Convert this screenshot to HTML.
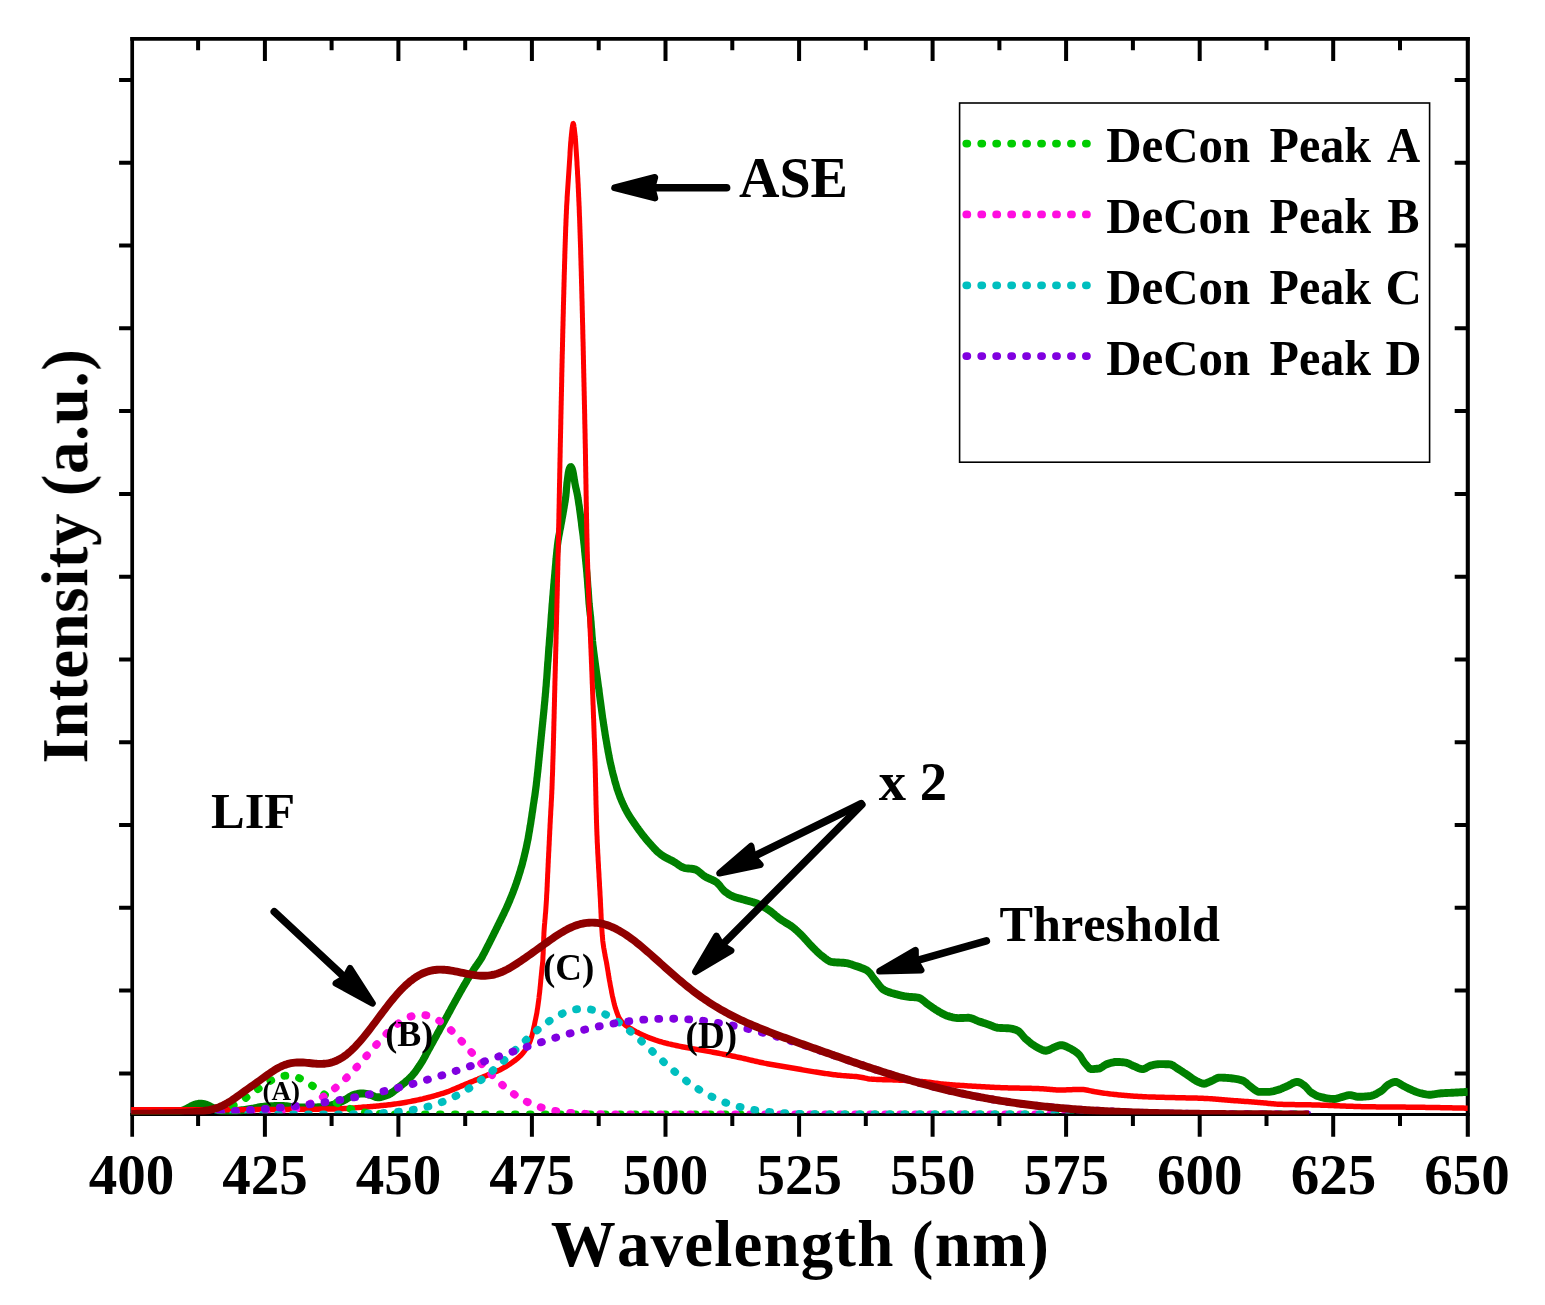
<!DOCTYPE html>
<html lang="en"><head><meta charset="utf-8"><title>Fluorescence spectra</title>
<style>
html,body{margin:0;padding:0;background:#fff}
svg{display:block}
text{font-family:"Liberation Serif",serif;font-weight:bold;fill:#000;font-kerning:none}
</style></head><body>
<svg width="1545" height="1305" viewBox="0 0 1545 1305">
<rect width="1545" height="1305" fill="#fff"/>
<filter id="soft" filterUnits="userSpaceOnUse" x="0" y="0" width="1545" height="1305"><feGaussianBlur stdDeviation="0.45"/></filter>
<g filter="url(#soft)">
<defs><clipPath id="plot"><rect x="131.2" y="38.8" width="1336.5" height="1075.7"/></clipPath><clipPath id="plotd"><rect x="131.2" y="38.8" width="1336.5" height="1074.5"/></clipPath></defs>
<g stroke="#000" stroke-width="3.7" fill="none" stroke-linecap="butt">
<path d="M130.3 38.8 H1469.8"/>
<path d="M130.3 1114.55 H1469.8" stroke-width="2.9"/>
<path d="M132.2 36.9 V1136.7"/>
<path d="M1467.8 36.9 V1136.7" stroke-width="4.1"/>
<path d="M198.1 1114.4 V1126.0 M198.1 38.8 V50.3 M264.9 1114.4 V1136.7 M264.9 38.8 V61.0 M331.6 1114.4 V1126.0 M331.6 38.8 V50.3 M398.4 1114.4 V1136.7 M398.4 38.8 V61.0 M465.2 1114.4 V1126.0 M465.2 38.8 V50.3 M531.9 1114.4 V1136.7 M531.9 38.8 V61.0 M598.7 1114.4 V1126.0 M598.7 38.8 V50.3 M665.5 1114.4 V1136.7 M665.5 38.8 V61.0 M732.3 1114.4 V1126.0 M732.3 38.8 V50.3 M799.1 1114.4 V1136.7 M799.1 38.8 V61.0 M865.8 1114.4 V1126.0 M865.8 38.8 V50.3 M932.6 1114.4 V1136.7 M932.6 38.8 V61.0 M999.4 1114.4 V1126.0 M999.4 38.8 V50.3 M1066.1 1114.4 V1136.7 M1066.1 38.8 V61.0 M1132.9 1114.4 V1126.0 M1132.9 38.8 V50.3 M1199.7 1114.4 V1136.7 M1199.7 38.8 V61.0 M1266.5 1114.4 V1126.0 M1266.5 38.8 V50.3 M1333.2 1114.4 V1136.7 M1333.2 38.8 V61.0 M1400.0 1114.4 V1126.0 M1400.0 38.8 V50.3 M119.1 1073.4 H132.2 M1454.7 1073.4 H1467.7 M119.1 990.6 H132.2 M1454.7 990.6 H1467.7 M119.1 907.8 H132.2 M1454.7 907.8 H1467.7 M119.1 825.0 H132.2 M1454.7 825.0 H1467.7 M119.1 742.2 H132.2 M1454.7 742.2 H1467.7 M119.1 659.5 H132.2 M1454.7 659.5 H1467.7 M119.1 576.7 H132.2 M1454.7 576.7 H1467.7 M119.1 493.9 H132.2 M1454.7 493.9 H1467.7 M119.1 411.1 H132.2 M1454.7 411.1 H1467.7 M119.1 328.3 H132.2 M1454.7 328.3 H1467.7 M119.1 245.5 H132.2 M1454.7 245.5 H1467.7 M119.1 162.7 H132.2 M1454.7 162.7 H1467.7 M119.1 79.9 H132.2 M1454.7 79.9 H1467.7" stroke-width="4.0"/>
</g>
<g clip-path="url(#plot)" fill="none" stroke-linejoin="round">
<path transform="scale(1 1.1)" d="M131.0 1010.91 L132.5 1010.91 L134.0 1010.91 L135.5 1010.91 L137.0 1010.91 L138.5 1010.91 L140.0 1010.91 L141.6 1010.91 L143.1 1010.91 L144.6 1010.91 L146.1 1010.91 L147.6 1010.91 L149.1 1010.91 L150.6 1010.91 L152.1 1010.91 L153.6 1010.91 L155.1 1010.91 L156.5 1010.91 L158.0 1010.91 L159.5 1010.91 L161.0 1010.91 L162.5 1010.91 L164.0 1010.91 L165.5 1010.91 L167.0 1010.91 L168.5 1010.91 L170.0 1010.91 L171.5 1010.91 L173.0 1010.89 L174.5 1010.81 L176.0 1010.66 L177.5 1010.46 L179.0 1010.21 L180.4 1009.95 L181.9 1009.66 L183.3 1009.29 L184.7 1008.76 L186.0 1008.14 L187.4 1007.48 L188.7 1006.85 L190.1 1006.25 L191.4 1005.60 L192.7 1004.97 L194.1 1004.44 L195.5 1004.06 L197.0 1003.72 L198.5 1003.44 L200.0 1003.29 L201.4 1003.31 L202.9 1003.51 L204.4 1003.81 L205.9 1004.15 L207.3 1004.57 L208.6 1005.14 L210.0 1005.78 L211.3 1006.42 L212.7 1007.02 L214.0 1007.67 L215.4 1008.31 L216.7 1008.88 L218.1 1009.30 L219.5 1009.64 L221.0 1009.96 L222.5 1010.23 L224.0 1010.43 L225.5 1010.54 L227.0 1010.54 L228.5 1010.50 L230.0 1010.43 L231.5 1010.33 L233.0 1010.22 L234.5 1010.08 L236.0 1009.94 L237.5 1009.80 L238.9 1009.65 L240.4 1009.50 L241.9 1009.34 L243.4 1009.15 L244.9 1008.94 L246.4 1008.72 L247.8 1008.50 L249.3 1008.28 L250.8 1008.06 L252.3 1007.83 L253.8 1007.59 L255.2 1007.33 L256.7 1007.08 L258.2 1006.83 L259.7 1006.60 L261.2 1006.39 L262.6 1006.21 L264.1 1006.07 L265.6 1005.96 L267.1 1005.86 L268.6 1005.77 L270.1 1005.68 L271.6 1005.60 L273.1 1005.53 L274.6 1005.47 L276.1 1005.42 L277.6 1005.39 L279.1 1005.37 L280.6 1005.37 L282.1 1005.41 L283.6 1005.49 L285.1 1005.60 L286.6 1005.73 L288.1 1005.88 L289.6 1006.04 L291.1 1006.21 L292.5 1006.36 L294.0 1006.51 L295.5 1006.63 L297.0 1006.73 L298.5 1006.80 L300.0 1006.82 L301.5 1006.82 L303.0 1006.81 L304.5 1006.81 L306.0 1006.80 L307.5 1006.79 L309.0 1006.77 L310.5 1006.76 L312.1 1006.74 L313.6 1006.72 L315.1 1006.69 L316.6 1006.67 L318.0 1006.64 L319.5 1006.60 L321.0 1006.57 L322.5 1006.53 L324.0 1006.41 L325.5 1006.21 L326.9 1005.94 L328.4 1005.62 L329.9 1005.26 L331.3 1004.86 L332.8 1004.45 L334.2 1004.04 L335.6 1003.64 L337.0 1003.18 L338.4 1002.66 L339.8 1002.11 L341.1 1001.52 L342.5 1000.93 L343.9 1000.33 L345.2 999.71 L346.5 999.00 L347.8 998.25 L349.1 997.50 L350.4 996.78 L351.7 996.13 L353.0 995.58 L354.4 995.18 L355.9 994.85 L357.3 994.55 L358.8 994.29 L360.3 994.10 L361.8 994.00 L363.3 994.04 L364.8 994.19 L366.3 994.42 L367.8 994.71 L369.2 995.02 L370.7 995.35 L372.1 995.84 L373.5 996.42 L374.9 996.98 L376.3 997.39 L377.8 997.55 L379.2 997.47 L380.7 997.27 L382.2 996.97 L383.7 996.59 L385.2 996.16 L386.6 995.70 L388.0 995.23 L389.3 994.72 L390.6 994.09 L391.8 993.36 L393.1 992.57 L394.3 991.72 L395.5 990.84 L396.7 989.96 L397.9 989.10 L399.1 988.27 L400.2 987.44 L401.4 986.60 L402.6 985.75 L403.8 984.89 L405.0 984.02 L406.1 983.13 L407.3 982.23 L408.4 981.31 L409.4 980.37 L410.5 979.42 L411.5 978.44 L412.5 977.43 L413.4 976.39 L414.4 975.33 L415.3 974.24 L416.2 973.14 L417.0 972.02 L417.9 970.89 L418.7 969.75 L419.6 968.60 L420.4 967.45 L421.2 966.30 L422.0 965.15 L422.8 963.99 L423.5 962.82 L424.3 961.63 L425.0 960.44 L425.7 959.24 L426.4 958.04 L427.1 956.83 L427.8 955.62 L428.5 954.42 L429.3 953.22 L430.0 952.03 L430.7 950.84 L431.4 949.65 L432.2 948.45 L432.9 947.26 L433.6 946.07 L434.3 944.87 L435.1 943.68 L435.8 942.48 L436.5 941.29 L437.2 940.10 L437.9 938.90 L438.7 937.71 L439.4 936.51 L440.1 935.32 L440.8 934.12 L441.5 932.93 L442.3 931.73 L443.0 930.54 L443.7 929.34 L444.4 928.14 L445.1 926.95 L445.9 925.75 L446.6 924.56 L447.3 923.36 L448.0 922.17 L448.7 920.97 L449.5 919.77 L450.2 918.58 L450.9 917.38 L451.6 916.18 L452.3 914.99 L453.0 913.79 L453.8 912.59 L454.5 911.40 L455.2 910.21 L455.9 909.01 L456.7 907.82 L457.4 906.63 L458.1 905.44 L458.8 904.25 L459.6 903.06 L460.3 901.86 L461.0 900.68 L461.8 899.49 L462.5 898.30 L463.3 897.12 L464.0 895.94 L464.8 894.76 L465.5 893.58 L466.3 892.41 L467.0 891.24 L467.8 890.07 L468.6 888.90 L469.4 887.73 L470.1 886.57 L470.9 885.41 L471.7 884.25 L472.5 883.10 L473.3 881.95 L474.1 880.81 L475.0 879.67 L475.8 878.55 L476.7 877.43 L477.6 876.31 L478.4 875.20 L479.3 874.07 L480.1 872.94 L480.9 871.80 L481.7 870.63 L482.4 869.45 L483.1 868.26 L483.8 867.06 L484.5 865.84 L485.2 864.62 L485.9 863.40 L486.5 862.18 L487.2 860.96 L487.9 859.75 L488.6 858.53 L489.3 857.32 L489.9 856.10 L490.6 854.88 L491.3 853.67 L491.9 852.45 L492.6 851.23 L493.3 850.01 L493.9 848.78 L494.6 847.56 L495.3 846.34 L495.9 845.12 L496.6 843.89 L497.3 842.67 L497.9 841.44 L498.6 840.22 L499.2 838.99 L499.9 837.77 L500.6 836.55 L501.2 835.32 L501.9 834.10 L502.5 832.88 L503.2 831.65 L503.9 830.42 L504.5 829.19 L505.1 827.96 L505.8 826.73 L506.4 825.49 L507.0 824.25 L507.6 823.01 L508.2 821.76 L508.8 820.51 L509.4 819.25 L510.0 817.99 L510.5 816.73 L511.1 815.47 L511.7 814.20 L512.2 812.93 L512.8 811.66 L513.3 810.39 L513.8 809.11 L514.4 807.83 L514.9 806.55 L515.4 805.27 L515.9 803.99 L516.4 802.70 L516.9 801.41 L517.3 800.12 L517.8 798.83 L518.3 797.53 L518.7 796.23 L519.2 794.93 L519.6 793.63 L520.1 792.33 L520.5 791.02 L520.9 789.71 L521.3 788.40 L521.8 787.09 L522.2 785.78 L522.6 784.46 L522.9 783.15 L523.3 781.83 L523.7 780.51 L524.0 779.19 L524.4 777.86 L524.7 776.54 L525.1 775.21 L525.4 773.88 L525.7 772.55 L526.1 771.22 L526.4 769.88 L526.7 768.55 L527.0 767.21 L527.3 765.88 L527.6 764.54 L527.9 763.20 L528.2 761.87 L528.4 760.53 L528.7 759.18 L528.9 757.84 L529.2 756.50 L529.5 755.16 L529.7 753.81 L529.9 752.47 L530.2 751.12 L530.4 749.77 L530.7 748.43 L530.9 747.08 L531.1 745.73 L531.3 744.39 L531.6 743.04 L531.8 741.69 L532.0 740.34 L532.2 739.00 L532.5 737.65 L532.7 736.30 L532.9 734.95 L533.1 733.60 L533.3 732.25 L533.5 730.90 L533.8 729.55 L534.0 728.21 L534.2 726.86 L534.4 725.51 L534.7 724.16 L534.9 722.82 L535.1 721.47 L535.3 720.12 L535.5 718.77 L535.7 717.42 L535.9 716.07 L536.1 714.71 L536.3 713.36 L536.4 712.01 L536.6 710.66 L536.8 709.30 L536.9 707.95 L537.1 706.59 L537.3 705.24 L537.4 703.88 L537.6 702.53 L537.8 701.17 L537.9 699.82 L538.1 698.46 L538.2 697.11 L538.4 695.75 L538.5 694.39 L538.7 693.04 L538.8 691.68 L539.0 690.32 L539.1 688.97 L539.3 687.61 L539.4 686.26 L539.6 684.90 L539.7 683.54 L539.9 682.19 L540.0 680.83 L540.2 679.47 L540.3 678.12 L540.5 676.76 L540.6 675.41 L540.8 674.05 L540.9 672.69 L541.1 671.34 L541.2 669.98 L541.4 668.63 L541.5 667.27 L541.7 665.91 L541.8 664.56 L542.0 663.20 L542.1 661.85 L542.3 660.49 L542.4 659.13 L542.6 657.78 L542.7 656.42 L542.9 655.06 L543.0 653.71 L543.2 652.35 L543.3 651.00 L543.5 649.64 L543.6 648.28 L543.8 646.93 L543.9 645.57 L544.1 644.21 L544.2 642.86 L544.3 641.50 L544.5 640.14 L544.6 638.78 L544.8 637.43 L544.9 636.07 L545.0 634.71 L545.2 633.36 L545.3 632.00 L545.4 630.64 L545.6 629.28 L545.7 627.93 L545.8 626.57 L545.9 625.21 L546.1 623.85 L546.2 622.49 L546.3 621.14 L546.4 619.78 L546.5 618.42 L546.7 617.06 L546.8 615.70 L546.9 614.34 L547.0 612.98 L547.1 611.62 L547.2 610.26 L547.3 608.90 L547.4 607.54 L547.5 606.19 L547.6 604.83 L547.7 603.47 L547.8 602.11 L548.0 600.75 L548.1 599.39 L548.2 598.03 L548.3 596.67 L548.4 595.31 L548.5 593.95 L548.6 592.59 L548.7 591.23 L548.8 589.87 L548.9 588.51 L549.1 587.15 L549.2 585.80 L549.3 584.44 L549.4 583.08 L549.5 581.72 L549.6 580.36 L549.8 579.00 L549.9 577.64 L550.0 576.28 L550.1 574.93 L550.2 573.57 L550.3 572.21 L550.5 570.85 L550.6 569.49 L550.7 568.13 L550.8 566.77 L550.9 565.41 L551.0 564.05 L551.1 562.69 L551.2 561.33 L551.3 559.97 L551.4 558.62 L551.6 557.26 L551.7 555.90 L551.8 554.54 L551.9 553.18 L552.0 551.82 L552.1 550.46 L552.2 549.10 L552.4 547.74 L552.5 546.39 L552.6 545.03 L552.7 543.67 L552.8 542.31 L553.0 540.95 L553.1 539.59 L553.2 538.24 L553.3 536.88 L553.5 535.52 L553.6 534.16 L553.7 532.80 L553.8 531.45 L554.0 530.09 L554.1 528.73 L554.2 527.37 L554.4 526.01 L554.5 524.66 L554.6 523.30 L554.8 521.94 L554.9 520.58 L555.0 519.23 L555.2 517.87 L555.3 516.51 L555.4 515.15 L555.6 513.79 L555.7 512.43 L555.8 511.07 L555.9 509.71 L556.1 508.36 L556.2 507.00 L556.3 505.64 L556.5 504.28 L556.6 502.92 L556.8 501.57 L556.9 500.21 L557.1 498.86 L557.3 497.50 L557.4 496.15 L557.6 494.80 L557.8 493.45 L558.0 492.10 L558.2 490.76 L558.5 489.42 L558.7 488.07 L559.0 486.73 L559.3 485.39 L559.6 484.05 L559.8 482.71 L560.1 481.37 L560.4 480.03 L560.7 478.69 L560.9 477.35 L561.2 476.01 L561.5 474.67 L561.8 473.33 L562.0 471.99 L562.3 470.65 L562.6 469.31 L562.8 467.97 L563.1 466.62 L563.3 465.28 L563.6 463.94 L563.8 462.59 L564.1 461.25 L564.3 459.90 L564.6 458.56 L564.8 457.21 L565.1 455.86 L565.3 454.52 L565.5 453.17 L565.7 451.82 L565.9 450.47 L566.0 449.11 L566.2 447.75 L566.3 446.40 L566.4 445.04 L566.5 443.68 L566.7 442.32 L566.8 440.96 L566.9 439.61 L567.1 438.25 L567.3 436.90 L567.5 435.54 L567.7 434.19 L567.9 432.84 L568.1 431.49 L568.3 430.15 L568.6 428.78 L568.9 427.44 L569.4 426.17 L570.2 424.74 L571.1 424.55 L572.0 425.86 L572.5 427.15 L572.9 428.47 L573.2 429.83 L573.5 431.18 L573.7 432.52 L574.0 433.86 L574.2 435.21 L574.4 436.56 L574.7 437.91 L574.9 439.25 L575.2 440.59 L575.5 441.92 L575.8 443.25 L576.2 444.58 L576.5 445.92 L576.8 447.25 L577.1 448.58 L577.4 449.92 L577.7 451.26 L577.9 452.60 L578.2 453.95 L578.4 455.29 L578.6 456.64 L578.8 457.99 L579.1 459.34 L579.3 460.69 L579.5 462.04 L579.7 463.39 L579.9 464.74 L580.1 466.09 L580.3 467.44 L580.5 468.79 L580.7 470.14 L580.9 471.49 L581.1 472.84 L581.3 474.19 L581.5 475.55 L581.6 476.90 L581.8 478.25 L582.0 479.60 L582.2 480.96 L582.4 482.31 L582.6 483.66 L582.8 485.01 L583.0 486.36 L583.2 487.72 L583.3 489.07 L583.5 490.42 L583.7 491.78 L583.8 493.13 L584.0 494.49 L584.2 495.84 L584.3 497.20 L584.5 498.55 L584.6 499.91 L584.7 501.27 L584.9 502.62 L585.0 503.98 L585.2 505.34 L585.3 506.70 L585.5 508.05 L585.6 509.41 L585.8 510.76 L585.9 512.12 L586.1 513.48 L586.2 514.83 L586.4 516.19 L586.5 517.54 L586.6 518.90 L586.8 520.26 L586.9 521.62 L587.0 522.97 L587.1 524.33 L587.3 525.69 L587.4 527.05 L587.5 528.41 L587.6 529.77 L587.7 531.13 L587.8 532.49 L587.9 533.85 L588.1 535.20 L588.2 536.56 L588.3 537.92 L588.4 539.28 L588.5 540.64 L588.6 542.00 L588.7 543.36 L588.8 544.72 L588.9 546.08 L589.0 547.44 L589.1 548.80 L589.3 550.16 L589.4 551.51 L589.6 552.87 L589.7 554.22 L589.9 555.58 L590.1 556.93 L590.2 558.29 L590.4 559.64 L590.6 561.00 L590.7 562.35 L590.8 563.71 L591.0 565.07 L591.1 566.43 L591.2 567.79 L591.3 569.14 L591.4 570.50 L591.6 571.86 L591.7 573.22 L591.8 574.58 L591.9 575.94 L592.0 577.30 L592.1 578.66 L592.3 580.02 L592.4 581.37 L592.5 582.73 L592.7 584.08 L592.8 585.44 L593.0 586.79 L593.2 588.15 L593.4 589.50 L593.5 590.85 L593.7 592.21 L593.9 593.56 L594.1 594.91 L594.3 596.26 L594.5 597.61 L594.7 598.97 L594.9 600.32 L595.1 601.67 L595.3 603.02 L595.5 604.37 L595.7 605.72 L595.9 607.07 L596.1 608.42 L596.3 609.77 L596.5 611.12 L596.7 612.47 L596.9 613.82 L597.1 615.17 L597.3 616.52 L597.5 617.87 L597.7 619.22 L597.9 620.57 L598.1 621.92 L598.3 623.27 L598.5 624.62 L598.8 625.97 L599.0 627.32 L599.1 628.67 L599.3 630.03 L599.5 631.38 L599.7 632.73 L599.9 634.08 L600.1 635.43 L600.3 636.78 L600.5 638.13 L600.7 639.49 L600.9 640.84 L601.1 642.19 L601.3 643.54 L601.5 644.89 L601.7 646.24 L601.9 647.59 L602.1 648.94 L602.3 650.29 L602.5 651.64 L602.7 652.99 L603.0 654.34 L603.2 655.69 L603.4 657.04 L603.6 658.38 L603.8 659.73 L604.1 661.08 L604.3 662.42 L604.5 663.77 L604.8 665.12 L605.0 666.46 L605.2 667.81 L605.5 669.16 L605.7 670.50 L606.0 671.85 L606.2 673.19 L606.5 674.54 L606.7 675.88 L607.0 677.22 L607.2 678.57 L607.5 679.91 L607.8 681.25 L608.0 682.59 L608.3 683.93 L608.6 685.27 L608.9 686.61 L609.1 687.94 L609.4 689.28 L609.7 690.61 L610.0 691.95 L610.3 693.28 L610.7 694.61 L611.0 695.94 L611.3 697.27 L611.7 698.60 L612.0 699.93 L612.4 701.25 L612.7 702.57 L613.1 703.89 L613.5 705.21 L613.9 706.53 L614.3 707.85 L614.6 709.16 L615.0 710.48 L615.4 711.80 L615.9 713.11 L616.3 714.43 L616.7 715.73 L617.1 717.04 L617.6 718.34 L618.1 719.63 L618.6 720.91 L619.1 722.19 L619.6 723.46 L620.1 724.73 L620.7 726.00 L621.3 727.26 L621.8 728.52 L622.5 729.77 L623.1 731.02 L623.7 732.26 L624.4 733.49 L625.0 734.71 L625.7 735.91 L626.4 737.11 L627.1 738.30 L627.9 739.48 L628.6 740.65 L629.4 741.82 L630.2 742.97 L631.0 744.12 L631.8 745.26 L632.7 746.40 L633.5 747.53 L634.4 748.66 L635.3 749.78 L636.1 750.89 L637.0 752.00 L637.9 753.11 L638.7 754.22 L639.6 755.32 L640.5 756.42 L641.4 757.51 L642.3 758.60 L643.2 759.68 L644.2 760.75 L645.1 761.82 L646.1 762.87 L647.0 763.92 L648.0 764.95 L649.0 765.97 L650.0 766.99 L651.0 768.02 L652.0 769.05 L653.0 770.07 L654.0 771.09 L655.1 772.08 L656.1 773.06 L657.2 774.00 L658.3 774.91 L659.5 775.78 L660.6 776.60 L661.8 777.37 L663.0 778.10 L664.3 778.80 L665.6 779.47 L666.9 780.12 L668.3 780.75 L669.6 781.38 L671.0 782.01 L672.3 782.65 L673.7 783.31 L675.0 783.99 L676.2 784.76 L677.5 785.57 L678.8 786.38 L680.0 787.17 L681.3 787.87 L682.6 788.47 L684.0 788.91 L685.4 789.18 L686.9 789.38 L688.4 789.53 L690.0 789.67 L691.5 789.81 L693.0 789.99 L694.4 790.23 L695.7 790.61 L697.0 791.20 L698.2 791.96 L699.4 792.84 L700.6 793.78 L701.8 794.72 L703.0 795.63 L704.2 796.44 L705.5 797.13 L706.8 797.75 L708.2 798.33 L709.6 798.89 L711.0 799.44 L712.4 800.00 L713.8 800.60 L715.1 801.24 L716.3 801.94 L717.4 802.75 L718.4 803.69 L719.4 804.72 L720.4 805.82 L721.3 806.93 L722.3 808.02 L723.3 809.07 L724.3 810.02 L725.5 810.86 L726.7 811.67 L727.9 812.45 L729.2 813.20 L730.5 813.89 L731.9 814.51 L733.2 815.06 L734.6 815.53 L736.0 815.95 L737.4 816.34 L738.9 816.69 L740.4 817.03 L741.8 817.37 L743.3 817.72 L744.7 818.08 L746.2 818.47 L747.6 818.84 L749.1 819.21 L750.5 819.58 L752.0 819.96 L753.4 820.35 L754.9 820.76 L756.3 821.19 L757.7 821.66 L759.0 822.17 L760.4 822.73 L761.7 823.35 L763.0 824.02 L764.3 824.72 L765.6 825.45 L766.9 826.20 L768.1 826.95 L769.4 827.71 L770.6 828.50 L771.8 829.33 L772.9 830.19 L774.1 831.06 L775.2 831.94 L776.4 832.82 L777.6 833.69 L778.7 834.54 L779.9 835.37 L781.1 836.16 L782.4 836.91 L783.7 837.64 L784.9 838.36 L786.2 839.06 L787.5 839.77 L788.8 840.49 L790.1 841.22 L791.3 841.99 L792.5 842.79 L793.7 843.62 L794.8 844.49 L795.9 845.39 L797.1 846.30 L798.2 847.23 L799.2 848.18 L800.3 849.13 L801.4 850.09 L802.5 851.05 L803.5 852.02 L804.5 853.01 L805.5 854.02 L806.5 855.04 L807.5 856.07 L808.5 857.09 L809.5 858.11 L810.5 859.12 L811.6 860.12 L812.6 861.09 L813.7 862.06 L814.7 863.03 L815.8 864.00 L816.9 864.96 L818.0 865.90 L819.1 866.83 L820.2 867.73 L821.3 868.59 L822.5 869.42 L823.7 870.24 L824.9 871.12 L826.2 872.00 L827.5 872.83 L828.8 873.55 L830.1 874.12 L831.5 874.49 L832.8 874.67 L834.3 874.80 L835.8 874.90 L837.3 874.97 L838.8 875.04 L840.3 875.11 L841.9 875.18 L843.4 875.28 L844.9 875.41 L846.4 875.59 L847.8 875.85 L849.3 876.18 L850.7 876.56 L852.2 876.98 L853.6 877.42 L855.0 877.88 L856.4 878.34 L857.9 878.78 L859.3 879.22 L860.8 879.68 L862.2 880.17 L863.6 880.68 L865.0 881.24 L866.3 881.85 L867.5 882.53 L868.5 883.33 L869.6 884.27 L870.5 885.31 L871.4 886.42 L872.3 887.57 L873.2 888.74 L874.1 889.89 L875.1 890.99 L876.1 892.04 L877.0 893.12 L878.0 894.25 L878.9 895.38 L879.9 896.48 L880.9 897.53 L881.9 898.49 L883.0 899.34 L884.2 900.04 L885.4 900.64 L886.7 901.19 L888.1 901.69 L889.6 902.15 L891.0 902.58 L892.5 902.98 L894.0 903.36 L895.5 903.72 L896.9 904.06 L898.4 904.40 L899.8 904.73 L901.3 905.04 L902.8 905.33 L904.2 905.60 L905.7 905.83 L907.2 906.03 L908.7 906.19 L910.2 906.31 L911.7 906.41 L913.3 906.49 L914.8 906.59 L916.3 906.72 L917.7 906.89 L919.0 907.20 L920.3 907.73 L921.6 908.44 L922.8 909.27 L924.0 910.18 L925.2 911.11 L926.4 912.02 L927.7 912.86 L928.9 913.63 L930.1 914.41 L931.4 915.20 L932.6 915.99 L933.8 916.77 L935.1 917.53 L936.3 918.27 L937.6 918.98 L938.9 919.65 L940.2 920.34 L941.5 921.02 L942.9 921.68 L944.2 922.31 L945.6 922.87 L947.0 923.37 L948.4 923.77 L949.8 924.14 L951.2 924.51 L952.7 924.85 L954.2 925.15 L955.7 925.37 L957.2 925.51 L958.7 925.54 L960.2 925.52 L961.7 925.47 L963.2 925.42 L964.7 925.36 L966.2 925.31 L967.7 925.28 L969.1 925.30 L970.6 925.52 L972.0 925.91 L973.4 926.41 L974.8 926.97 L976.2 927.55 L977.7 928.08 L979.1 928.54 L980.5 928.97 L981.9 929.41 L983.3 929.85 L984.8 930.28 L986.2 930.72 L987.6 931.15 L989.0 931.58 L990.4 932.07 L991.8 932.60 L993.3 933.12 L994.7 933.61 L996.1 934.03 L997.5 934.32 L999.0 934.47 L1000.5 934.55 L1002.0 934.59 L1003.5 934.63 L1005.0 934.66 L1006.5 934.71 L1008.0 934.77 L1009.5 934.86 L1011.0 935.06 L1012.5 935.35 L1014.0 935.72 L1015.5 936.15 L1016.8 936.62 L1018.0 937.16 L1019.2 937.91 L1020.2 938.82 L1021.3 939.86 L1022.3 940.96 L1023.3 942.08 L1024.3 943.17 L1025.3 944.16 L1026.5 945.06 L1027.6 945.95 L1028.8 946.84 L1029.9 947.72 L1031.1 948.57 L1032.3 949.38 L1033.6 950.15 L1034.8 950.87 L1036.1 951.52 L1037.4 952.20 L1038.8 952.90 L1040.2 953.58 L1041.6 954.19 L1043.0 954.69 L1044.4 955.04 L1045.8 955.18 L1047.2 955.05 L1048.6 954.65 L1050.0 954.07 L1051.4 953.40 L1052.8 952.73 L1054.2 952.16 L1055.6 951.66 L1057.0 951.09 L1058.5 950.57 L1059.9 950.21 L1061.3 950.09 L1062.7 950.26 L1064.2 950.62 L1065.6 951.14 L1067.0 951.74 L1068.4 952.37 L1069.7 952.97 L1071.1 953.58 L1072.4 954.25 L1073.7 954.96 L1075.0 955.73 L1076.2 956.54 L1077.4 957.38 L1078.5 958.26 L1079.5 959.22 L1080.4 960.28 L1081.2 961.42 L1082.0 962.60 L1082.8 963.80 L1083.6 964.98 L1084.5 966.11 L1085.4 967.17 L1086.4 968.23 L1087.5 969.42 L1088.6 970.56 L1089.7 971.44 L1091.0 971.89 L1092.3 971.90 L1093.8 971.84 L1095.4 971.74 L1096.9 971.61 L1098.4 971.47 L1099.8 971.16 L1101.1 970.58 L1102.4 969.83 L1103.7 969.01 L1105.0 968.23 L1106.3 967.59 L1107.7 967.15 L1109.2 966.74 L1110.6 966.34 L1112.1 965.99 L1113.6 965.69 L1115.1 965.47 L1116.5 965.37 L1118.0 965.38 L1119.5 965.43 L1121.0 965.53 L1122.6 965.67 L1124.0 965.82 L1125.5 966.00 L1126.9 966.29 L1128.3 966.76 L1129.7 967.34 L1131.0 967.97 L1132.4 968.60 L1133.8 969.16 L1135.2 969.68 L1136.6 970.25 L1138.0 970.83 L1139.5 971.34 L1140.9 971.72 L1142.3 971.90 L1143.7 971.79 L1145.1 971.37 L1146.4 970.74 L1147.8 970.02 L1149.2 969.34 L1150.6 968.80 L1152.0 968.46 L1153.5 968.15 L1155.0 967.86 L1156.4 967.61 L1157.9 967.44 L1159.4 967.37 L1160.9 967.37 L1162.5 967.39 L1164.0 967.42 L1165.5 967.46 L1167.0 967.51 L1168.5 967.57 L1169.9 967.65 L1171.3 967.93 L1172.6 968.47 L1173.9 969.18 L1175.2 969.99 L1176.5 970.84 L1177.8 971.63 L1179.1 972.34 L1180.4 973.05 L1181.6 973.78 L1182.9 974.53 L1184.1 975.28 L1185.4 976.03 L1186.6 976.79 L1187.9 977.54 L1189.1 978.30 L1190.4 979.10 L1191.6 979.92 L1192.8 980.73 L1194.1 981.50 L1195.3 982.21 L1196.6 982.83 L1198.0 983.42 L1199.4 984.03 L1200.8 984.58 L1202.3 984.99 L1203.7 985.18 L1205.1 985.07 L1206.5 984.69 L1207.9 984.16 L1209.4 983.56 L1210.8 983.00 L1212.1 982.45 L1213.5 981.79 L1214.9 981.09 L1216.3 980.44 L1217.6 979.94 L1219.0 979.66 L1220.5 979.64 L1221.9 979.68 L1223.4 979.74 L1224.9 979.82 L1226.5 979.91 L1228.0 980.03 L1229.5 980.15 L1231.0 980.27 L1232.5 980.41 L1234.0 980.59 L1235.5 980.80 L1237.0 981.04 L1238.5 981.32 L1240.0 981.63 L1241.4 981.98 L1242.7 982.38 L1244.0 982.95 L1245.2 983.70 L1246.4 984.59 L1247.5 985.54 L1248.7 986.50 L1249.9 987.40 L1251.1 988.20 L1252.3 989.04 L1253.6 989.94 L1254.9 990.84 L1256.2 991.63 L1257.5 992.25 L1258.8 992.59 L1260.2 992.64 L1261.7 992.64 L1263.2 992.64 L1264.7 992.64 L1266.3 992.64 L1267.8 992.64 L1269.3 992.59 L1270.7 992.44 L1272.2 992.19 L1273.7 991.87 L1275.2 991.51 L1276.6 991.13 L1278.1 990.75 L1279.5 990.37 L1280.9 989.91 L1282.3 989.39 L1283.6 988.84 L1285.0 988.28 L1286.4 987.73 L1287.8 987.18 L1289.2 986.53 L1290.6 985.82 L1291.9 985.12 L1293.3 984.47 L1294.7 983.96 L1296.1 983.63 L1297.4 983.56 L1298.8 983.82 L1300.2 984.37 L1301.6 985.10 L1302.9 985.91 L1304.1 986.69 L1305.3 987.51 L1306.3 988.48 L1307.3 989.54 L1308.3 990.63 L1309.3 991.68 L1310.4 992.63 L1311.5 993.43 L1312.8 994.16 L1314.1 994.86 L1315.4 995.53 L1316.8 996.12 L1318.2 996.63 L1319.7 997.03 L1321.1 997.35 L1322.5 997.66 L1324.0 997.96 L1325.5 998.23 L1327.0 998.48 L1328.5 998.70 L1330.0 998.87 L1331.5 999.00 L1333.0 999.07 L1334.4 999.08 L1335.9 998.93 L1337.4 998.62 L1338.8 998.21 L1340.3 997.77 L1341.7 997.34 L1343.2 996.98 L1344.6 996.58 L1346.1 996.17 L1347.5 995.81 L1349.0 995.58 L1350.5 995.57 L1351.9 995.79 L1353.4 996.14 L1354.9 996.54 L1356.3 996.88 L1357.8 997.08 L1359.3 997.08 L1360.8 997.05 L1362.3 997.00 L1363.8 996.92 L1365.3 996.83 L1366.8 996.71 L1368.3 996.59 L1369.8 996.45 L1371.2 996.22 L1372.6 995.86 L1374.1 995.38 L1375.5 994.81 L1376.9 994.18 L1378.2 993.49 L1379.5 992.79 L1380.8 992.09 L1382.0 991.34 L1383.1 990.44 L1384.2 989.44 L1385.2 988.42 L1386.3 987.44 L1387.5 986.58 L1388.7 985.88 L1390.0 985.21 L1391.4 984.55 L1392.9 984.00 L1394.3 983.64 L1395.7 983.56 L1397.1 983.85 L1398.4 984.44 L1399.8 985.19 L1401.1 985.99 L1402.4 986.70 L1403.8 987.31 L1405.1 987.94 L1406.4 988.58 L1407.8 989.21 L1409.1 989.81 L1410.5 990.38 L1411.8 990.92 L1413.2 991.45 L1414.6 991.98 L1416.0 992.49 L1417.4 992.96 L1418.9 993.39 L1420.3 993.75 L1421.7 994.06 L1423.2 994.37 L1424.7 994.65 L1426.2 994.90 L1427.7 995.09 L1429.1 995.18 L1430.6 995.16 L1432.1 995.05 L1433.6 994.88 L1435.1 994.67 L1436.6 994.44 L1438.1 994.22 L1439.6 994.04 L1441.1 993.91 L1442.5 993.82 L1444.0 993.74 L1445.5 993.67 L1447.0 993.60 L1448.5 993.54 L1450.0 993.49 L1451.5 993.43 L1453.0 993.37 L1454.5 993.30 L1456.0 993.23 L1457.5 993.16 L1459.0 993.09 L1460.5 993.02 L1462.0 992.94 L1463.5 992.87 L1465.0 992.79 L1466.5 992.71 L1468.0 992.64" stroke="#008000" stroke-width="7.20"/>
<path transform="scale(1 1.1)" d="M131.0 1008.91 L132.5 1008.91 L134.0 1008.91 L135.5 1008.91 L137.0 1008.91 L138.5 1008.91 L140.0 1008.91 L141.5 1008.91 L143.0 1008.91 L144.5 1008.91 L146.0 1008.91 L147.5 1008.91 L149.0 1008.91 L150.5 1008.91 L152.0 1008.91 L153.5 1008.91 L155.0 1008.91 L156.5 1008.91 L158.0 1008.91 L159.5 1008.91 L161.0 1008.91 L162.5 1008.91 L164.0 1008.91 L165.5 1008.91 L167.0 1008.91 L168.5 1008.91 L170.0 1008.91 L171.5 1008.91 L173.0 1008.91 L174.5 1008.91 L176.0 1008.91 L177.5 1008.91 L179.0 1008.91 L180.5 1008.91 L182.0 1008.91 L183.5 1008.91 L185.0 1008.91 L186.5 1008.91 L188.0 1008.91 L189.5 1008.91 L191.0 1008.91 L192.5 1008.91 L194.0 1008.91 L195.5 1008.91 L197.0 1008.91 L198.5 1008.91 L200.0 1008.91 L201.5 1008.91 L203.0 1008.91 L204.5 1008.91 L206.0 1008.91 L207.5 1008.91 L209.0 1008.90 L210.5 1008.90 L212.0 1008.90 L213.5 1008.90 L215.0 1008.89 L216.5 1008.89 L218.0 1008.89 L219.5 1008.89 L221.0 1008.88 L222.5 1008.88 L224.0 1008.87 L225.5 1008.87 L227.0 1008.86 L228.5 1008.86 L230.0 1008.86 L231.5 1008.85 L233.0 1008.84 L234.5 1008.84 L236.0 1008.83 L237.5 1008.83 L239.0 1008.82 L240.5 1008.81 L242.0 1008.81 L243.4 1008.80 L244.9 1008.79 L246.4 1008.79 L247.9 1008.78 L249.4 1008.77 L250.9 1008.76 L252.4 1008.76 L253.9 1008.75 L255.4 1008.74 L256.9 1008.73 L258.4 1008.72 L259.9 1008.72 L261.4 1008.71 L262.9 1008.70 L264.4 1008.69 L265.9 1008.68 L267.4 1008.67 L268.9 1008.66 L270.4 1008.65 L271.9 1008.64 L273.4 1008.63 L274.9 1008.62 L276.4 1008.61 L277.9 1008.60 L279.4 1008.60 L280.9 1008.59 L282.4 1008.58 L283.9 1008.57 L285.4 1008.56 L286.9 1008.54 L288.4 1008.53 L289.9 1008.52 L291.4 1008.51 L292.9 1008.50 L294.4 1008.49 L295.9 1008.48 L297.4 1008.47 L298.9 1008.46 L300.4 1008.45 L301.9 1008.44 L303.4 1008.43 L304.9 1008.42 L306.4 1008.41 L307.9 1008.40 L309.4 1008.39 L310.9 1008.37 L312.4 1008.36 L313.9 1008.35 L315.4 1008.33 L316.9 1008.32 L318.4 1008.30 L319.9 1008.29 L321.4 1008.27 L322.9 1008.25 L324.4 1008.24 L325.9 1008.22 L327.4 1008.20 L328.9 1008.18 L330.4 1008.15 L331.9 1008.13 L333.4 1008.10 L334.9 1008.08 L336.4 1008.05 L337.9 1008.02 L339.4 1007.99 L340.9 1007.95 L342.4 1007.89 L343.9 1007.83 L345.4 1007.76 L346.9 1007.67 L348.4 1007.58 L349.9 1007.49 L351.4 1007.38 L352.9 1007.27 L354.4 1007.16 L355.9 1007.05 L357.4 1006.93 L358.8 1006.82 L360.3 1006.70 L361.8 1006.58 L363.3 1006.47 L364.8 1006.36 L366.3 1006.25 L367.8 1006.15 L369.3 1006.04 L370.8 1005.93 L372.3 1005.82 L373.8 1005.70 L375.3 1005.59 L376.8 1005.47 L378.3 1005.35 L379.8 1005.22 L381.3 1005.10 L382.8 1004.97 L384.3 1004.83 L385.7 1004.69 L387.2 1004.54 L388.7 1004.39 L390.2 1004.23 L391.7 1004.07 L393.2 1003.90 L394.7 1003.72 L396.2 1003.52 L397.6 1003.32 L399.1 1003.12 L400.6 1002.90 L402.1 1002.68 L403.6 1002.45 L405.0 1002.21 L406.5 1001.97 L408.0 1001.72 L409.5 1001.47 L410.9 1001.21 L412.4 1000.95 L413.9 1000.69 L415.4 1000.41 L416.8 1000.14 L418.3 999.86 L419.7 999.57 L421.2 999.27 L422.7 998.97 L424.1 998.65 L425.6 998.33 L427.1 998.00 L428.5 997.66 L430.0 997.32 L431.4 996.96 L432.9 996.60 L434.3 996.23 L435.8 995.86 L437.2 995.48 L438.6 995.09 L440.1 994.69 L441.5 994.29 L442.9 993.88 L444.3 993.46 L445.7 993.02 L447.1 992.56 L448.6 992.09 L450.0 991.60 L451.3 991.11 L452.7 990.60 L454.1 990.09 L455.5 989.57 L456.9 989.04 L458.3 988.51 L459.7 987.98 L461.1 987.44 L462.4 986.91 L463.8 986.37 L465.2 985.84 L466.6 985.31 L468.0 984.79 L469.4 984.28 L470.8 983.75 L472.1 983.23 L473.5 982.71 L474.9 982.18 L476.3 981.65 L477.7 981.12 L479.0 980.59 L480.4 980.06 L481.8 979.53 L483.2 979.00 L484.6 978.47 L486.0 977.96 L487.4 977.45 L488.8 976.95 L490.2 976.44 L491.6 975.94 L493.0 975.43 L494.3 974.91 L495.7 974.37 L497.1 973.82 L498.4 973.25 L499.8 972.65 L501.1 972.03 L502.4 971.39 L503.7 970.73 L505.1 970.05 L506.4 969.35 L507.6 968.63 L508.9 967.90 L510.2 967.15 L511.4 966.38 L512.6 965.60 L513.8 964.79 L515.0 963.97 L516.2 963.12 L517.4 962.24 L518.6 961.35 L519.7 960.42 L520.8 959.48 L521.8 958.50 L522.7 957.50 L523.7 956.46 L524.6 955.38 L525.4 954.27 L526.3 953.12 L527.1 951.94 L527.9 950.74 L528.6 949.52 L529.3 948.29 L529.9 947.05 L530.5 945.81 L530.9 944.56 L531.4 943.28 L531.8 941.98 L532.2 940.67 L532.5 939.33 L532.9 937.99 L533.2 936.65 L533.5 935.30 L533.8 933.95 L534.2 932.61 L534.5 931.27 L534.8 929.94 L535.1 928.61 L535.4 927.28 L535.7 925.94 L536.0 924.60 L536.3 923.27 L536.6 921.93 L536.9 920.58 L537.1 919.24 L537.3 917.90 L537.6 916.55 L537.8 915.20 L538.0 913.85 L538.2 912.50 L538.4 911.15 L538.6 909.80 L538.8 908.44 L539.0 907.09 L539.1 905.74 L539.3 904.38 L539.5 903.03 L539.7 901.67 L539.8 900.32 L540.0 898.96 L540.1 897.61 L540.3 896.25 L540.4 894.90 L540.6 893.54 L540.7 892.18 L540.8 890.82 L541.0 889.47 L541.1 888.11 L541.3 886.75 L541.4 885.40 L541.6 884.04 L541.7 882.68 L541.9 881.33 L542.0 879.97 L542.2 878.62 L542.4 877.26 L542.5 875.90 L542.7 874.55 L542.8 873.19 L542.9 871.83 L542.9 870.47 L543.0 869.11 L543.1 867.75 L543.2 866.39 L543.2 865.03 L543.3 863.66 L543.3 862.30 L543.4 860.94 L543.5 859.58 L543.5 858.21 L543.6 856.85 L543.6 855.49 L543.7 854.13 L543.7 852.76 L543.8 851.40 L543.9 850.04 L543.9 848.68 L544.0 847.32 L544.1 845.96 L544.2 844.60 L544.3 843.24 L544.4 841.88 L544.5 840.52 L544.7 839.16 L544.8 837.80 L544.9 836.45 L545.1 835.09 L545.2 833.73 L545.3 832.37 L545.4 831.01 L545.6 829.65 L545.7 828.29 L545.8 826.94 L545.9 825.58 L546.0 824.22 L546.1 822.86 L546.2 821.50 L546.3 820.14 L546.4 818.78 L546.5 817.42 L546.6 816.06 L546.6 814.69 L546.7 813.33 L546.8 811.97 L546.9 810.61 L547.0 809.25 L547.0 807.89 L547.1 806.53 L547.2 805.17 L547.2 803.80 L547.3 802.44 L547.4 801.08 L547.4 799.72 L547.5 798.36 L547.6 797.00 L547.6 795.63 L547.7 794.27 L547.8 792.91 L547.9 791.55 L547.9 790.19 L548.0 788.82 L548.1 787.46 L548.1 786.10 L548.2 784.74 L548.3 783.38 L548.3 782.02 L548.4 780.66 L548.5 779.29 L548.6 777.93 L548.6 776.57 L548.7 775.21 L548.8 773.85 L548.9 772.49 L548.9 771.13 L549.0 769.76 L549.1 768.40 L549.2 767.04 L549.2 765.68 L549.3 764.32 L549.4 762.96 L549.4 761.60 L549.5 760.23 L549.6 758.87 L549.7 757.51 L549.7 756.15 L549.8 754.79 L549.9 753.43 L550.0 752.07 L550.0 750.70 L550.1 749.34 L550.2 747.98 L550.3 746.62 L550.3 745.26 L550.4 743.90 L550.5 742.54 L550.6 741.18 L550.7 739.81 L550.7 738.45 L550.8 737.09 L550.9 735.73 L551.0 734.37 L551.1 733.01 L551.2 731.65 L551.2 730.29 L551.3 728.93 L551.4 727.57 L551.5 726.20 L551.6 724.84 L551.6 723.48 L551.7 722.12 L551.8 720.76 L551.8 719.40 L551.9 718.04 L552.0 716.67 L552.0 715.31 L552.1 713.95 L552.1 712.59 L552.2 711.23 L552.2 709.87 L552.3 708.50 L552.3 707.14 L552.4 705.78 L552.5 704.42 L552.5 703.06 L552.6 701.69 L552.6 700.33 L552.7 698.97 L552.7 697.61 L552.7 696.25 L552.8 694.88 L552.8 693.52 L552.9 692.16 L552.9 690.80 L553.0 689.43 L553.0 688.07 L553.1 686.71 L553.1 685.35 L553.2 683.98 L553.2 682.62 L553.2 681.26 L553.3 679.90 L553.3 678.53 L553.4 677.17 L553.4 675.81 L553.4 674.45 L553.5 673.08 L553.5 671.72 L553.6 670.36 L553.6 669.00 L553.6 667.63 L553.7 666.27 L553.7 664.91 L553.8 663.54 L553.8 662.18 L553.8 660.82 L553.9 659.46 L553.9 658.09 L553.9 656.73 L554.0 655.37 L554.0 654.01 L554.1 652.64 L554.1 651.28 L554.1 649.92 L554.2 648.55 L554.2 647.19 L554.2 645.83 L554.3 644.47 L554.3 643.10 L554.4 641.74 L554.4 640.38 L554.4 639.02 L554.5 637.65 L554.5 636.29 L554.5 634.93 L554.6 633.56 L554.6 632.20 L554.6 630.84 L554.7 629.48 L554.7 628.11 L554.8 626.75 L554.8 625.39 L554.8 624.03 L554.9 622.66 L554.9 621.30 L554.9 619.94 L555.0 618.58 L555.0 617.21 L555.1 615.85 L555.1 614.49 L555.1 613.12 L555.2 611.76 L555.2 610.40 L555.3 609.04 L555.3 607.67 L555.3 606.31 L555.4 604.95 L555.4 603.59 L555.5 602.22 L555.5 600.86 L555.5 599.50 L555.6 598.14 L555.6 596.77 L555.6 595.41 L555.7 594.05 L555.7 592.69 L555.8 591.32 L555.8 589.96 L555.8 588.60 L555.9 587.24 L555.9 585.87 L556.0 584.51 L556.0 583.15 L556.0 581.79 L556.1 580.42 L556.1 579.06 L556.1 577.70 L556.2 576.34 L556.2 574.97 L556.3 573.61 L556.3 572.25 L556.3 570.89 L556.4 569.52 L556.4 568.16 L556.5 566.80 L556.5 565.43 L556.5 564.07 L556.6 562.71 L556.6 561.35 L556.6 559.98 L556.7 558.62 L556.7 557.26 L556.8 555.90 L556.8 554.53 L556.8 553.17 L556.9 551.81 L556.9 550.45 L556.9 549.08 L557.0 547.72 L557.0 546.36 L557.0 545.00 L557.1 543.63 L557.1 542.27 L557.2 540.91 L557.2 539.55 L557.2 538.18 L557.3 536.82 L557.3 535.46 L557.3 534.09 L557.4 532.73 L557.4 531.37 L557.4 530.01 L557.5 528.64 L557.5 527.28 L557.5 525.92 L557.6 524.56 L557.6 523.19 L557.7 521.83 L557.7 520.47 L557.7 519.11 L557.8 517.74 L557.8 516.38 L557.8 515.02 L557.9 513.65 L557.9 512.29 L557.9 510.93 L558.0 509.57 L558.0 508.20 L558.0 506.84 L558.1 505.48 L558.1 504.12 L558.1 502.75 L558.2 501.39 L558.2 500.03 L558.2 498.67 L558.3 497.30 L558.3 495.94 L558.3 494.58 L558.4 493.21 L558.4 491.85 L558.4 490.49 L558.5 489.13 L558.5 487.76 L558.5 486.40 L558.6 485.04 L558.6 483.68 L558.6 482.31 L558.6 480.95 L558.7 479.59 L558.7 478.22 L558.7 476.86 L558.8 475.50 L558.8 474.14 L558.8 472.77 L558.9 471.41 L558.9 470.05 L558.9 468.69 L558.9 467.32 L559.0 465.96 L559.0 464.60 L559.0 463.23 L559.1 461.87 L559.1 460.51 L559.1 459.15 L559.2 457.78 L559.2 456.42 L559.2 455.06 L559.2 453.70 L559.3 452.33 L559.3 450.97 L559.3 449.61 L559.4 448.24 L559.4 446.88 L559.4 445.52 L559.4 444.16 L559.5 442.79 L559.5 441.43 L559.5 440.07 L559.6 438.70 L559.6 437.34 L559.6 435.98 L559.7 434.62 L559.7 433.25 L559.7 431.89 L559.7 430.53 L559.8 429.17 L559.8 427.80 L559.8 426.44 L559.9 425.08 L559.9 423.71 L559.9 422.35 L559.9 420.99 L560.0 419.63 L560.0 418.26 L560.0 416.90 L560.1 415.54 L560.1 414.17 L560.1 412.81 L560.2 411.45 L560.2 410.09 L560.2 408.72 L560.2 407.36 L560.3 406.00 L560.3 404.64 L560.3 403.27 L560.4 401.91 L560.4 400.55 L560.4 399.18 L560.5 397.82 L560.5 396.46 L560.5 395.10 L560.6 393.73 L560.6 392.37 L560.6 391.01 L560.7 389.65 L560.7 388.28 L560.7 386.92 L560.8 385.56 L560.8 384.19 L560.8 382.83 L560.8 381.47 L560.9 380.11 L560.9 378.74 L560.9 377.38 L561.0 376.02 L561.0 374.66 L561.0 373.29 L561.1 371.93 L561.1 370.57 L561.1 369.20 L561.2 367.84 L561.2 366.48 L561.2 365.12 L561.3 363.75 L561.3 362.39 L561.3 361.03 L561.4 359.67 L561.4 358.30 L561.4 356.94 L561.5 355.58 L561.5 354.21 L561.5 352.85 L561.6 351.49 L561.6 350.13 L561.6 348.76 L561.7 347.40 L561.7 346.04 L561.7 344.68 L561.7 343.31 L561.8 341.95 L561.8 340.59 L561.8 339.22 L561.9 337.86 L561.9 336.50 L561.9 335.14 L562.0 333.77 L562.0 332.41 L562.0 331.05 L562.1 329.69 L562.1 328.32 L562.1 326.96 L562.2 325.60 L562.2 324.24 L562.2 322.87 L562.3 321.51 L562.3 320.15 L562.4 318.78 L562.4 317.42 L562.4 316.06 L562.5 314.70 L562.5 313.33 L562.5 311.97 L562.6 310.61 L562.6 309.25 L562.6 307.88 L562.7 306.52 L562.7 305.16 L562.7 303.80 L562.8 302.43 L562.8 301.07 L562.8 299.71 L562.9 298.34 L562.9 296.98 L563.0 295.62 L563.0 294.26 L563.0 292.89 L563.1 291.53 L563.1 290.17 L563.1 288.81 L563.2 287.44 L563.2 286.08 L563.3 284.72 L563.3 283.36 L563.3 281.99 L563.4 280.63 L563.4 279.27 L563.4 277.91 L563.5 276.54 L563.5 275.18 L563.6 273.82 L563.6 272.46 L563.6 271.09 L563.7 269.73 L563.7 268.37 L563.8 267.01 L563.8 265.64 L563.8 264.28 L563.9 262.92 L563.9 261.56 L564.0 260.19 L564.0 258.83 L564.0 257.47 L564.1 256.10 L564.1 254.74 L564.2 253.38 L564.2 252.02 L564.2 250.65 L564.3 249.29 L564.3 247.93 L564.4 246.57 L564.4 245.20 L564.5 243.84 L564.5 242.48 L564.5 241.12 L564.6 239.75 L564.6 238.39 L564.7 237.03 L564.7 235.66 L564.8 234.30 L564.8 232.94 L564.8 231.58 L564.9 230.21 L564.9 228.85 L565.0 227.49 L565.0 226.13 L565.1 224.76 L565.1 223.40 L565.2 222.04 L565.2 220.68 L565.3 219.32 L565.3 217.95 L565.4 216.59 L565.4 215.23 L565.5 213.87 L565.5 212.50 L565.6 211.14 L565.6 209.78 L565.7 208.42 L565.7 207.06 L565.8 205.70 L565.9 204.33 L565.9 202.97 L566.0 201.61 L566.0 200.25 L566.1 198.89 L566.2 197.53 L566.2 196.16 L566.3 194.80 L566.4 193.44 L566.4 192.08 L566.5 190.72 L566.6 189.36 L566.6 188.00 L566.7 186.64 L566.8 185.27 L566.9 183.91 L567.0 182.55 L567.1 181.19 L567.1 179.83 L567.2 178.47 L567.3 177.11 L567.4 175.75 L567.5 174.39 L567.6 173.03 L567.7 171.67 L567.8 170.31 L567.9 168.95 L568.0 167.59 L568.1 166.23 L568.2 164.87 L568.3 163.51 L568.4 162.15 L568.5 160.78 L568.6 159.42 L568.7 158.06 L568.8 156.70 L568.9 155.34 L569.0 153.98 L569.1 152.62 L569.2 151.26 L569.3 149.90 L569.4 148.54 L569.5 147.18 L569.6 145.82 L569.7 144.46 L569.8 143.10 L569.9 141.74 L570.0 140.38 L570.0 139.02 L570.1 137.66 L570.2 136.29 L570.3 134.93 L570.4 133.57 L570.5 132.21 L570.6 130.85 L570.7 129.49 L570.9 128.13 L571.0 126.78 L571.1 125.42 L571.3 124.07 L571.4 122.71 L571.6 121.21 L571.8 119.49 L572.0 117.70 L572.3 115.97 L572.5 114.43 L572.8 113.22 L573.0 112.46 L573.3 112.29 L573.5 112.77 L573.8 113.77 L574.0 115.16 L574.3 116.81 L574.5 118.59 L574.7 120.36 L574.9 121.99 L575.1 123.38 L575.2 124.74 L575.4 126.09 L575.5 127.45 L575.6 128.81 L575.7 130.16 L575.8 131.52 L575.9 132.88 L576.0 134.24 L576.1 135.61 L576.2 136.97 L576.3 138.33 L576.4 139.69 L576.5 141.05 L576.6 142.42 L576.7 143.78 L576.8 145.14 L576.9 146.50 L577.0 147.86 L577.0 149.22 L577.1 150.58 L577.2 151.94 L577.3 153.30 L577.4 154.66 L577.5 156.02 L577.5 157.38 L577.6 158.74 L577.7 160.11 L577.8 161.47 L577.9 162.83 L577.9 164.19 L578.0 165.55 L578.1 166.91 L578.2 168.27 L578.2 169.64 L578.3 171.00 L578.4 172.36 L578.4 173.72 L578.5 175.08 L578.6 176.44 L578.6 177.81 L578.7 179.17 L578.8 180.53 L578.8 181.89 L578.9 183.25 L579.0 184.62 L579.0 185.98 L579.1 187.34 L579.2 188.70 L579.2 190.06 L579.3 191.43 L579.3 192.79 L579.4 194.15 L579.4 195.51 L579.5 196.87 L579.6 198.23 L579.6 199.60 L579.7 200.96 L579.7 202.32 L579.8 203.68 L579.8 205.04 L579.9 206.41 L579.9 207.77 L580.0 209.13 L580.0 210.49 L580.1 211.86 L580.1 213.22 L580.2 214.58 L580.2 215.94 L580.3 217.30 L580.3 218.67 L580.4 220.03 L580.4 221.39 L580.5 222.75 L580.5 224.12 L580.6 225.48 L580.6 226.84 L580.7 228.20 L580.7 229.57 L580.7 230.93 L580.8 232.29 L580.8 233.65 L580.9 235.02 L580.9 236.38 L581.0 237.74 L581.0 239.10 L581.0 240.47 L581.1 241.83 L581.1 243.19 L581.2 244.55 L581.2 245.92 L581.3 247.28 L581.3 248.64 L581.3 250.00 L581.4 251.37 L581.4 252.73 L581.5 254.09 L581.5 255.45 L581.5 256.82 L581.6 258.18 L581.6 259.54 L581.7 260.91 L581.7 262.27 L581.7 263.63 L581.8 264.99 L581.8 266.36 L581.9 267.72 L581.9 269.08 L581.9 270.44 L582.0 271.81 L582.0 273.17 L582.1 274.53 L582.1 275.89 L582.1 277.26 L582.2 278.62 L582.2 279.98 L582.2 281.34 L582.3 282.71 L582.3 284.07 L582.4 285.43 L582.4 286.79 L582.4 288.16 L582.5 289.52 L582.5 290.88 L582.5 292.24 L582.6 293.61 L582.6 294.97 L582.7 296.33 L582.7 297.69 L582.7 299.06 L582.8 300.42 L582.8 301.78 L582.8 303.14 L582.9 304.51 L582.9 305.87 L582.9 307.23 L583.0 308.60 L583.0 309.96 L583.1 311.32 L583.1 312.68 L583.1 314.05 L583.2 315.41 L583.2 316.77 L583.2 318.13 L583.3 319.50 L583.3 320.86 L583.3 322.22 L583.4 323.58 L583.4 324.95 L583.4 326.31 L583.5 327.67 L583.5 329.04 L583.5 330.40 L583.6 331.76 L583.6 333.12 L583.6 334.49 L583.7 335.85 L583.7 337.21 L583.7 338.57 L583.8 339.94 L583.8 341.30 L583.8 342.66 L583.9 344.03 L583.9 345.39 L583.9 346.75 L584.0 348.11 L584.0 349.48 L584.0 350.84 L584.1 352.20 L584.1 353.56 L584.1 354.93 L584.2 356.29 L584.2 357.65 L584.2 359.01 L584.3 360.38 L584.3 361.74 L584.3 363.10 L584.4 364.47 L584.4 365.83 L584.4 367.19 L584.5 368.55 L584.5 369.92 L584.5 371.28 L584.6 372.64 L584.6 374.00 L584.6 375.37 L584.7 376.73 L584.7 378.09 L584.7 379.46 L584.7 380.82 L584.8 382.18 L584.8 383.54 L584.8 384.91 L584.9 386.27 L584.9 387.63 L584.9 388.99 L585.0 390.36 L585.0 391.72 L585.0 393.08 L585.1 394.45 L585.1 395.81 L585.1 397.17 L585.1 398.53 L585.2 399.90 L585.2 401.26 L585.2 402.62 L585.3 403.99 L585.3 405.35 L585.3 406.71 L585.4 408.07 L585.4 409.44 L585.4 410.80 L585.4 412.16 L585.5 413.52 L585.5 414.89 L585.5 416.25 L585.5 417.61 L585.6 418.98 L585.6 420.34 L585.6 421.70 L585.6 423.06 L585.7 424.43 L585.7 425.79 L585.7 427.15 L585.7 428.52 L585.8 429.88 L585.8 431.24 L585.8 432.61 L585.8 433.97 L585.9 435.33 L585.9 436.69 L585.9 438.06 L585.9 439.42 L586.0 440.78 L586.0 442.15 L586.0 443.51 L586.0 444.87 L586.1 446.23 L586.1 447.60 L586.1 448.96 L586.1 450.32 L586.2 451.69 L586.2 453.05 L586.2 454.41 L586.2 455.77 L586.3 457.14 L586.3 458.50 L586.3 459.86 L586.4 461.23 L586.4 462.59 L586.4 463.95 L586.4 465.31 L586.5 466.68 L586.5 468.04 L586.5 469.40 L586.5 470.77 L586.6 472.13 L586.6 473.49 L586.6 474.85 L586.7 476.22 L586.7 477.58 L586.7 478.94 L586.7 480.30 L586.8 481.67 L586.8 483.03 L586.8 484.39 L586.9 485.76 L586.9 487.12 L586.9 488.48 L587.0 489.84 L587.0 491.21 L587.0 492.57 L587.1 493.93 L587.1 495.29 L587.1 496.66 L587.2 498.02 L587.2 499.38 L587.2 500.74 L587.3 502.11 L587.3 503.47 L587.4 504.83 L587.4 506.19 L587.4 507.56 L587.5 508.92 L587.5 510.28 L587.6 511.64 L587.6 513.00 L587.7 514.37 L587.7 515.73 L587.7 517.09 L587.8 518.45 L587.8 519.82 L587.9 521.18 L587.9 522.54 L588.0 523.90 L588.0 525.26 L588.1 526.63 L588.2 527.99 L588.2 529.35 L588.3 530.71 L588.3 532.07 L588.4 533.44 L588.4 534.80 L588.5 536.16 L588.5 537.52 L588.6 538.89 L588.7 540.25 L588.7 541.61 L588.8 542.97 L588.8 544.33 L588.9 545.69 L588.9 547.06 L589.0 548.42 L589.1 549.78 L589.1 551.14 L589.2 552.50 L589.3 553.87 L589.3 555.23 L589.4 556.59 L589.4 557.95 L589.5 559.31 L589.6 560.68 L589.6 562.04 L589.7 563.40 L589.8 564.76 L589.8 566.12 L589.9 567.49 L589.9 568.85 L590.0 570.21 L590.1 571.57 L590.1 572.93 L590.2 574.30 L590.3 575.66 L590.3 577.02 L590.4 578.38 L590.5 579.74 L590.5 581.10 L590.6 582.47 L590.6 583.83 L590.7 585.19 L590.8 586.55 L590.8 587.91 L590.9 589.28 L591.0 590.64 L591.0 592.00 L591.1 593.36 L591.1 594.72 L591.2 596.09 L591.3 597.45 L591.3 598.81 L591.4 600.17 L591.4 601.53 L591.5 602.90 L591.6 604.26 L591.6 605.62 L591.7 606.98 L591.7 608.34 L591.8 609.71 L591.9 611.07 L591.9 612.43 L592.0 613.79 L592.0 615.15 L592.1 616.52 L592.1 617.88 L592.2 619.24 L592.2 620.60 L592.3 621.96 L592.4 623.33 L592.4 624.69 L592.5 626.05 L592.5 627.41 L592.6 628.78 L592.6 630.14 L592.7 631.50 L592.8 632.86 L592.8 634.22 L592.9 635.59 L592.9 636.95 L593.0 638.31 L593.0 639.67 L593.1 641.03 L593.2 642.40 L593.2 643.76 L593.3 645.12 L593.3 646.48 L593.4 647.84 L593.4 649.21 L593.5 650.57 L593.5 651.93 L593.6 653.29 L593.7 654.66 L593.7 656.02 L593.8 657.38 L593.8 658.74 L593.9 660.10 L593.9 661.47 L594.0 662.83 L594.0 664.19 L594.1 665.55 L594.1 666.91 L594.2 668.28 L594.2 669.64 L594.3 671.00 L594.4 672.36 L594.4 673.73 L594.5 675.09 L594.5 676.45 L594.6 677.81 L594.6 679.17 L594.6 680.54 L594.7 681.90 L594.7 683.26 L594.8 684.62 L594.8 685.99 L594.9 687.35 L594.9 688.71 L595.0 690.07 L595.0 691.44 L595.1 692.80 L595.1 694.16 L595.1 695.52 L595.2 696.89 L595.2 698.25 L595.3 699.61 L595.3 700.97 L595.3 702.34 L595.4 703.70 L595.4 705.06 L595.4 706.42 L595.5 707.79 L595.5 709.15 L595.5 710.51 L595.6 711.88 L595.6 713.24 L595.6 714.60 L595.7 715.96 L595.7 717.33 L595.7 718.69 L595.8 720.05 L595.8 721.41 L595.8 722.78 L595.9 724.14 L595.9 725.50 L595.9 726.87 L596.0 728.23 L596.0 729.59 L596.0 730.95 L596.1 732.32 L596.1 733.68 L596.2 735.04 L596.2 736.40 L596.2 737.77 L596.3 739.13 L596.3 740.49 L596.4 741.85 L596.4 743.22 L596.4 744.58 L596.5 745.94 L596.5 747.30 L596.6 748.67 L596.6 750.03 L596.7 751.39 L596.7 752.75 L596.8 754.11 L596.8 755.48 L596.9 756.84 L596.9 758.20 L597.0 759.56 L597.1 760.92 L597.1 762.28 L597.2 763.65 L597.2 765.01 L597.3 766.37 L597.4 767.73 L597.5 769.09 L597.5 770.45 L597.6 771.82 L597.7 773.18 L597.7 774.54 L597.8 775.90 L597.9 777.26 L598.0 778.62 L598.1 779.98 L598.1 781.34 L598.2 782.71 L598.3 784.07 L598.4 785.43 L598.5 786.79 L598.5 788.15 L598.6 789.51 L598.7 790.87 L598.8 792.23 L598.9 793.59 L599.0 794.96 L599.0 796.32 L599.1 797.68 L599.2 799.04 L599.3 800.40 L599.4 801.76 L599.5 803.12 L599.5 804.48 L599.6 805.84 L599.7 807.21 L599.8 808.57 L599.9 809.93 L600.0 811.29 L600.0 812.65 L600.1 814.01 L600.2 815.37 L600.3 816.73 L600.4 818.10 L600.4 819.46 L600.5 820.82 L600.6 822.18 L600.6 823.55 L600.7 824.91 L600.8 826.28 L600.9 827.64 L600.9 829.00 L601.0 830.37 L601.1 831.73 L601.1 833.09 L601.2 834.46 L601.3 835.82 L601.4 837.18 L601.5 838.54 L601.5 839.91 L601.6 841.27 L601.7 842.63 L601.8 843.99 L601.9 845.34 L602.0 846.70 L602.1 848.06 L602.2 849.42 L602.3 850.77 L602.5 852.13 L602.6 853.48 L602.7 854.83 L602.9 856.18 L603.1 857.53 L603.3 858.88 L603.5 860.22 L603.7 861.57 L604.0 862.91 L604.2 864.26 L604.5 865.60 L604.8 866.94 L605.0 868.28 L605.3 869.63 L605.6 870.97 L605.9 872.31 L606.2 873.65 L606.5 874.99 L606.7 876.34 L607.0 877.68 L607.2 879.02 L607.5 880.37 L607.7 881.71 L608.0 883.06 L608.2 884.41 L608.4 885.75 L608.7 887.10 L608.9 888.44 L609.2 889.79 L609.4 891.13 L609.7 892.47 L610.0 893.82 L610.2 895.16 L610.5 896.50 L610.8 897.83 L611.1 899.17 L611.4 900.51 L611.6 901.85 L611.9 903.19 L612.2 904.53 L612.5 905.87 L612.9 907.21 L613.2 908.55 L613.5 909.88 L613.9 911.21 L614.2 912.53 L614.6 913.85 L615.0 915.15 L615.4 916.44 L615.9 917.74 L616.4 919.06 L616.9 920.40 L617.4 921.73 L618.0 923.04 L618.6 924.32 L619.3 925.55 L620.0 926.71 L620.8 927.80 L621.6 928.79 L622.5 929.74 L623.6 930.64 L624.7 931.50 L626.0 932.32 L627.3 933.12 L628.6 933.89 L629.9 934.63 L631.3 935.35 L632.5 936.06 L633.8 936.75 L635.1 937.43 L636.4 938.09 L637.8 938.73 L639.1 939.35 L640.5 939.96 L641.8 940.55 L643.2 941.12 L644.6 941.68 L645.9 942.21 L647.3 942.74 L648.7 943.25 L650.1 943.74 L651.5 944.23 L652.9 944.70 L654.3 945.16 L655.7 945.60 L657.2 946.03 L658.6 946.44 L660.0 946.84 L661.5 947.21 L662.9 947.58 L664.4 947.93 L665.8 948.27 L667.3 948.60 L668.7 948.93 L670.2 949.24 L671.6 949.55 L673.1 949.85 L674.6 950.15 L676.0 950.44 L677.5 950.72 L679.0 951.00 L680.4 951.28 L681.9 951.55 L683.4 951.82 L684.9 952.07 L686.3 952.33 L687.8 952.57 L689.3 952.81 L690.8 953.05 L692.2 953.28 L693.7 953.51 L695.2 953.74 L696.7 953.96 L698.1 954.18 L699.6 954.41 L701.1 954.63 L702.6 954.85 L704.1 955.08 L705.5 955.31 L707.0 955.54 L708.5 955.78 L710.0 956.03 L711.4 956.27 L712.9 956.53 L714.4 956.78 L715.9 957.04 L717.3 957.29 L718.8 957.55 L720.3 957.81 L721.8 958.08 L723.2 958.34 L724.7 958.61 L726.2 958.87 L727.6 959.14 L729.1 959.41 L730.6 959.69 L732.0 959.96 L733.5 960.24 L735.0 960.52 L736.4 960.80 L737.9 961.08 L739.4 961.36 L740.8 961.65 L742.3 961.94 L743.8 962.25 L745.2 962.55 L746.7 962.87 L748.2 963.18 L749.6 963.50 L751.1 963.81 L752.5 964.13 L754.0 964.44 L755.4 964.75 L756.9 965.06 L758.4 965.36 L759.8 965.65 L761.3 965.94 L762.8 966.21 L764.2 966.48 L765.7 966.73 L767.2 966.99 L768.7 967.23 L770.1 967.47 L771.6 967.71 L773.1 967.94 L774.6 968.17 L776.0 968.40 L777.5 968.63 L779.0 968.85 L780.5 969.07 L782.0 969.30 L783.4 969.52 L784.9 969.75 L786.4 969.97 L787.9 970.20 L789.4 970.43 L790.8 970.67 L792.3 970.90 L793.8 971.14 L795.3 971.38 L796.7 971.63 L798.2 971.87 L799.7 972.11 L801.2 972.35 L802.6 972.59 L804.1 972.83 L805.6 973.07 L807.1 973.31 L808.5 973.54 L810.0 973.76 L811.5 973.99 L813.0 974.20 L814.5 974.41 L815.9 974.62 L817.4 974.83 L818.9 975.03 L820.4 975.24 L821.9 975.44 L823.4 975.64 L824.8 975.84 L826.3 976.04 L827.8 976.23 L829.3 976.42 L830.8 976.60 L832.3 976.78 L833.8 976.96 L835.2 977.12 L836.7 977.28 L838.2 977.44 L839.7 977.58 L841.2 977.72 L842.7 977.84 L844.2 977.95 L845.7 978.06 L847.2 978.15 L848.7 978.24 L850.2 978.33 L851.7 978.42 L853.2 978.52 L854.7 978.62 L856.2 978.74 L857.6 978.88 L859.1 979.04 L860.6 979.26 L862.1 979.51 L863.6 979.80 L865.0 980.09 L866.5 980.37 L868.0 980.63 L869.5 980.85 L870.9 981.01 L872.4 981.11 L873.9 981.19 L875.4 981.25 L876.9 981.31 L878.4 981.36 L879.9 981.40 L881.4 981.44 L882.9 981.48 L884.4 981.51 L885.9 981.54 L887.4 981.58 L888.9 981.61 L890.4 981.65 L891.9 981.69 L893.4 981.73 L894.9 981.78 L896.4 981.84 L897.9 981.90 L899.4 981.96 L900.9 982.03 L902.4 982.09 L903.9 982.16 L905.4 982.24 L906.9 982.31 L908.4 982.39 L909.9 982.47 L911.4 982.55 L912.9 982.64 L914.4 982.73 L915.9 982.82 L917.4 982.92 L918.9 983.02 L920.4 983.12 L921.9 983.23 L923.3 983.35 L924.8 983.48 L926.3 983.63 L927.8 983.79 L929.3 983.95 L930.8 984.12 L932.3 984.29 L933.8 984.47 L935.3 984.65 L936.7 984.83 L938.2 985.00 L939.7 985.17 L941.2 985.33 L942.7 985.48 L944.2 985.62 L945.7 985.75 L947.2 985.87 L948.7 985.98 L950.2 986.09 L951.7 986.19 L953.2 986.29 L954.6 986.39 L956.1 986.49 L957.6 986.58 L959.1 986.67 L960.6 986.75 L962.1 986.84 L963.6 986.92 L965.1 987.01 L966.6 987.09 L968.1 987.17 L969.6 987.25 L971.1 987.33 L972.6 987.41 L974.1 987.49 L975.6 987.56 L977.1 987.64 L978.6 987.72 L980.1 987.80 L981.6 987.88 L983.1 987.96 L984.6 988.03 L986.1 988.11 L987.6 988.18 L989.1 988.26 L990.6 988.33 L992.1 988.40 L993.6 988.46 L995.1 988.53 L996.6 988.59 L998.1 988.65 L999.6 988.71 L1001.1 988.76 L1002.6 988.82 L1004.1 988.87 L1005.6 988.91 L1007.1 988.95 L1008.5 988.99 L1010.0 989.03 L1011.5 989.06 L1013.0 989.09 L1014.5 989.12 L1016.0 989.15 L1017.5 989.18 L1019.0 989.20 L1020.5 989.23 L1022.0 989.25 L1023.5 989.28 L1025.0 989.30 L1026.5 989.33 L1028.0 989.36 L1029.5 989.39 L1031.0 989.42 L1032.5 989.45 L1034.0 989.49 L1035.5 989.53 L1037.0 989.57 L1038.5 989.61 L1040.0 989.67 L1041.5 989.74 L1043.0 989.83 L1044.5 989.94 L1046.0 990.06 L1047.5 990.18 L1049.0 990.31 L1050.5 990.43 L1052.0 990.55 L1053.5 990.66 L1055.0 990.75 L1056.5 990.83 L1058.0 990.88 L1059.5 990.91 L1061.0 990.91 L1062.5 990.89 L1064.0 990.86 L1065.5 990.82 L1067.0 990.77 L1068.5 990.72 L1070.0 990.66 L1071.5 990.61 L1073.0 990.55 L1074.5 990.50 L1076.0 990.45 L1077.5 990.41 L1079.0 990.38 L1080.5 990.37 L1081.9 990.37 L1083.4 990.45 L1084.9 990.62 L1086.4 990.85 L1087.9 991.12 L1089.3 991.43 L1090.8 991.74 L1092.3 992.05 L1093.8 992.34 L1095.2 992.58 L1096.7 992.79 L1098.2 992.99 L1099.7 993.19 L1101.2 993.39 L1102.6 993.58 L1104.1 993.78 L1105.6 993.96 L1107.1 994.14 L1108.6 994.32 L1110.1 994.49 L1111.6 994.65 L1113.1 994.81 L1114.6 994.96 L1116.0 995.10 L1117.5 995.23 L1119.0 995.36 L1120.5 995.48 L1122.0 995.61 L1123.5 995.73 L1125.0 995.85 L1126.5 995.96 L1128.0 996.08 L1129.5 996.19 L1131.0 996.30 L1132.5 996.40 L1134.0 996.50 L1135.5 996.59 L1137.0 996.68 L1138.5 996.77 L1140.0 996.84 L1141.5 996.92 L1143.0 996.99 L1144.4 997.05 L1145.9 997.11 L1147.4 997.16 L1148.9 997.21 L1150.4 997.26 L1151.9 997.30 L1153.4 997.34 L1154.9 997.38 L1156.4 997.42 L1157.9 997.46 L1159.4 997.49 L1160.9 997.53 L1162.4 997.56 L1163.9 997.59 L1165.4 997.63 L1166.9 997.66 L1168.4 997.69 L1169.9 997.72 L1171.4 997.76 L1172.9 997.79 L1174.4 997.83 L1175.9 997.86 L1177.4 997.89 L1178.9 997.93 L1180.4 997.95 L1181.9 997.98 L1183.4 998.01 L1184.9 998.04 L1186.4 998.07 L1187.9 998.10 L1189.4 998.12 L1190.9 998.15 L1192.4 998.19 L1193.9 998.22 L1195.4 998.25 L1196.9 998.29 L1198.4 998.33 L1199.9 998.37 L1201.4 998.42 L1202.9 998.47 L1204.4 998.53 L1205.9 998.59 L1207.4 998.67 L1208.9 998.75 L1210.4 998.84 L1211.9 998.94 L1213.4 999.04 L1214.9 999.15 L1216.4 999.26 L1217.9 999.37 L1219.4 999.49 L1220.8 999.61 L1222.3 999.72 L1223.8 999.84 L1225.3 999.95 L1226.8 1000.07 L1228.3 1000.18 L1229.8 1000.28 L1231.3 1000.38 L1232.8 1000.48 L1234.3 1000.58 L1235.8 1000.68 L1237.3 1000.78 L1238.8 1000.88 L1240.3 1000.97 L1241.8 1001.07 L1243.3 1001.17 L1244.8 1001.26 L1246.3 1001.36 L1247.8 1001.46 L1249.3 1001.56 L1250.8 1001.66 L1252.2 1001.76 L1253.7 1001.86 L1255.2 1001.97 L1256.7 1002.07 L1258.2 1002.18 L1259.7 1002.29 L1261.2 1002.41 L1262.7 1002.54 L1264.2 1002.67 L1265.7 1002.81 L1267.2 1002.96 L1268.7 1003.10 L1270.2 1003.24 L1271.7 1003.38 L1273.2 1003.51 L1274.7 1003.62 L1276.1 1003.73 L1277.6 1003.81 L1279.1 1003.88 L1280.6 1003.93 L1282.1 1003.97 L1283.6 1004.00 L1285.1 1004.04 L1286.6 1004.07 L1288.1 1004.09 L1289.6 1004.12 L1291.1 1004.14 L1292.6 1004.17 L1294.1 1004.19 L1295.6 1004.21 L1297.1 1004.22 L1298.6 1004.24 L1300.1 1004.26 L1301.6 1004.28 L1303.1 1004.30 L1304.6 1004.32 L1306.1 1004.34 L1307.6 1004.36 L1309.1 1004.39 L1310.6 1004.41 L1312.1 1004.44 L1313.6 1004.47 L1315.1 1004.51 L1316.6 1004.55 L1318.1 1004.59 L1319.6 1004.63 L1321.1 1004.67 L1322.6 1004.72 L1324.1 1004.76 L1325.6 1004.81 L1327.1 1004.86 L1328.6 1004.91 L1330.1 1004.97 L1331.6 1005.02 L1333.1 1005.08 L1334.6 1005.13 L1336.1 1005.19 L1337.6 1005.24 L1339.1 1005.30 L1340.6 1005.35 L1342.1 1005.41 L1343.6 1005.46 L1345.1 1005.52 L1346.6 1005.57 L1348.1 1005.62 L1349.6 1005.68 L1351.1 1005.73 L1352.6 1005.77 L1354.1 1005.82 L1355.6 1005.87 L1357.1 1005.91 L1358.6 1005.95 L1360.1 1005.99 L1361.6 1006.03 L1363.1 1006.06 L1364.6 1006.10 L1366.1 1006.12 L1367.6 1006.15 L1369.1 1006.17 L1370.6 1006.19 L1372.1 1006.21 L1373.6 1006.23 L1375.1 1006.24 L1376.6 1006.26 L1378.0 1006.27 L1379.5 1006.29 L1381.0 1006.30 L1382.5 1006.31 L1384.0 1006.32 L1385.5 1006.33 L1387.0 1006.35 L1388.5 1006.36 L1390.0 1006.37 L1391.5 1006.38 L1393.0 1006.39 L1394.5 1006.40 L1396.0 1006.41 L1397.5 1006.42 L1399.0 1006.43 L1400.5 1006.44 L1402.0 1006.45 L1403.5 1006.46 L1405.0 1006.47 L1406.5 1006.49 L1408.0 1006.50 L1409.5 1006.51 L1411.0 1006.53 L1412.5 1006.55 L1414.0 1006.56 L1415.5 1006.58 L1417.0 1006.60 L1418.5 1006.62 L1420.0 1006.63 L1421.5 1006.65 L1423.0 1006.67 L1424.5 1006.69 L1426.0 1006.71 L1427.5 1006.74 L1429.0 1006.76 L1430.5 1006.78 L1432.0 1006.80 L1433.5 1006.82 L1435.0 1006.85 L1436.5 1006.87 L1438.0 1006.90 L1439.5 1006.92 L1441.0 1006.94 L1442.5 1006.97 L1444.0 1007.00 L1445.5 1007.02 L1447.0 1007.05 L1448.5 1007.08 L1450.0 1007.10 L1451.5 1007.13 L1453.0 1007.16 L1454.5 1007.19 L1456.0 1007.21 L1457.5 1007.24 L1459.0 1007.27 L1460.5 1007.30 L1462.0 1007.33 L1463.5 1007.36 L1465.0 1007.39 L1466.5 1007.42 L1468.0 1007.45" stroke="#ff0000" stroke-width="5.00"/>
</g><g clip-path="url(#plotd)" fill="none" stroke-linejoin="round">
<path d="M131.0 1114.50 L133.0 1114.50 L135.0 1114.50 L137.0 1114.50 L139.0 1114.50 L141.0 1114.50 L143.0 1114.50 L145.0 1114.50 L147.0 1114.50 L149.0 1114.50 L151.0 1114.50 L153.0 1114.49 L155.0 1114.49 L157.0 1114.49 L159.0 1114.49 L161.0 1114.48 L163.0 1114.48 L165.0 1114.47 L167.0 1114.47 L169.0 1114.46 L171.0 1114.45 L173.0 1114.44 L175.0 1114.42 L177.0 1114.40 L179.0 1114.38 L181.0 1114.35 L183.0 1114.31 L185.0 1114.27 L187.0 1114.22 L189.0 1114.16 L191.0 1114.09 L193.0 1114.00 L195.0 1113.90 L197.0 1113.79 L199.0 1113.65 L201.0 1113.49 L203.0 1113.31 L205.0 1113.10 L207.0 1112.86 L209.0 1112.58 L211.0 1112.27 L213.0 1111.91 L215.0 1111.51 L217.0 1111.06 L219.0 1110.57 L221.0 1110.01 L223.0 1109.40 L225.0 1108.72 L227.0 1107.99 L229.0 1107.18 L231.0 1106.32 L233.0 1105.38 L235.0 1104.37 L237.0 1103.30 L239.0 1102.17 L241.0 1100.97 L243.0 1099.71 L245.0 1098.40 L247.0 1097.04 L249.0 1095.64 L251.0 1094.20 L253.0 1092.75 L255.0 1091.27 L257.0 1089.80 L259.0 1088.34 L261.0 1086.89 L263.0 1085.48 L265.0 1084.12 L267.0 1082.82 L269.0 1081.59 L271.0 1080.44 L273.0 1079.40 L275.0 1078.46 L277.0 1077.64 L279.0 1076.95 L281.0 1076.39 L283.0 1075.98 L285.0 1075.72 L287.0 1075.60 L289.0 1075.64 L291.0 1075.83 L293.0 1076.17 L295.0 1076.65 L297.0 1077.28 L299.0 1078.03 L301.0 1078.91 L303.0 1079.91 L305.0 1081.00 L307.0 1082.19 L309.0 1083.46 L311.0 1084.79 L313.0 1086.18 L315.0 1087.61 L317.0 1089.07 L319.0 1090.54 L321.0 1092.01 L323.0 1093.48 L325.0 1094.92 L327.0 1096.34 L329.0 1097.72 L331.0 1099.06 L333.0 1100.34 L335.0 1101.57 L337.0 1102.74 L339.0 1103.85 L341.0 1104.88 L343.0 1105.86 L345.0 1106.76 L347.0 1107.59 L349.0 1108.36 L351.0 1109.07 L353.0 1109.71 L355.0 1110.30 L357.0 1110.82 L359.0 1111.29 L361.0 1111.72 L363.0 1112.09 L365.0 1112.43 L367.0 1112.72 L369.0 1112.98 L371.0 1113.21 L373.0 1113.40 L375.0 1113.57 L377.0 1113.72 L379.0 1113.85 L381.0 1113.96 L383.0 1114.05 L385.0 1114.12 L387.0 1114.19 L389.0 1114.25 L391.0 1114.29 L393.0 1114.33 L395.0 1114.36 L397.0 1114.39 L399.0 1114.41 L401.0 1114.43 L403.0 1114.44 L405.0 1114.45 L407.0 1114.46 L409.0 1114.47 L411.0 1114.48 L413.0 1114.48 L415.0 1114.49 L417.0 1114.49 L419.0 1114.49 L421.0 1114.49 L423.0 1114.50 L425.0 1114.50 L427.0 1114.50 L429.0 1114.50 L431.0 1114.50 L433.0 1114.50 L435.0 1114.50 L437.0 1114.50 L439.0 1114.50 L441.0 1114.50 L443.0 1114.50 L445.0 1114.50 L447.0 1114.50 L449.0 1114.50 L451.0 1114.50 L453.0 1114.50 L455.0 1114.50 L457.0 1114.50 L459.0 1114.50 L461.0 1114.50 L463.0 1114.50 L465.0 1114.50 L467.0 1114.50 L469.0 1114.50 L471.0 1114.50 L473.0 1114.50 L475.0 1114.50 L477.0 1114.50 L479.0 1114.50 L481.0 1114.50 L483.0 1114.50 L485.0 1114.50 L487.0 1114.50 L489.0 1114.50 L491.0 1114.50 L493.0 1114.50 L495.0 1114.50 L497.0 1114.50 L499.0 1114.50 L501.0 1114.50 L503.0 1114.50 L505.0 1114.50 L507.0 1114.50 L509.0 1114.50 L511.0 1114.50 L513.0 1114.50 L515.0 1114.50 L517.0 1114.50 L519.0 1114.50 L521.0 1114.50 L523.0 1114.50 L525.0 1114.50 L527.0 1114.50 L529.0 1114.50 L531.0 1114.50 L533.0 1114.50 L535.0 1114.50 L537.0 1114.50 L539.0 1114.50 L541.0 1114.50 L543.0 1114.50 L545.0 1114.50 L547.0 1114.50 L549.0 1114.50 L551.0 1114.50 L553.0 1114.50 L555.0 1114.50 L557.0 1114.50 L559.0 1114.50 L561.0 1114.50 L563.0 1114.50 L565.0 1114.50 L567.0 1114.50 L569.0 1114.50 L571.0 1114.50 L573.0 1114.50 L575.0 1114.50 L577.0 1114.50 L579.0 1114.50 L581.0 1114.50 L583.0 1114.50 L585.0 1114.50 L587.0 1114.50 L589.0 1114.50 L591.0 1114.50 L593.0 1114.50 L595.0 1114.50 L597.0 1114.50 L599.0 1114.50 L601.0 1114.50 L603.0 1114.50 L605.0 1114.50 L607.0 1114.50 L609.0 1114.50 L611.0 1114.50 L613.0 1114.50 L615.0 1114.50 L617.0 1114.50 L619.0 1114.50 L621.0 1114.50 L623.0 1114.50 L625.0 1114.50 L627.0 1114.50 L629.0 1114.50 L631.0 1114.50 L633.0 1114.50 L635.0 1114.50 L637.0 1114.50 L639.0 1114.50 L641.0 1114.50 L643.0 1114.50 L645.0 1114.50 L647.0 1114.50 L649.0 1114.50 L651.0 1114.50 L653.0 1114.50 L655.0 1114.50 L657.0 1114.50 L659.0 1114.50 L661.0 1114.50 L663.0 1114.50 L665.0 1114.50 L667.0 1114.50 L669.0 1114.50 L671.0 1114.50 L673.0 1114.50 L675.0 1114.50 L677.0 1114.50 L679.0 1114.50 L681.0 1114.50 L683.0 1114.50 L685.0 1114.50 L687.0 1114.50 L689.0 1114.50 L691.0 1114.50 L693.0 1114.50 L695.0 1114.50 L697.0 1114.50 L699.0 1114.50 L701.0 1114.50 L703.0 1114.50 L705.0 1114.50 L707.0 1114.50 L709.0 1114.50 L711.0 1114.50 L713.0 1114.50 L715.0 1114.50 L717.0 1114.50 L719.0 1114.50 L721.0 1114.50 L723.0 1114.50 L725.0 1114.50 L727.0 1114.50 L729.0 1114.50 L731.0 1114.50 L733.0 1114.50 L735.0 1114.50 L737.0 1114.50 L739.0 1114.50 L741.0 1114.50 L743.0 1114.50 L745.0 1114.50 L747.0 1114.50 L749.0 1114.50 L751.0 1114.50 L753.0 1114.50 L755.0 1114.50 L757.0 1114.50 L759.0 1114.50 L761.0 1114.50 L763.0 1114.50 L765.0 1114.50 L767.0 1114.50 L769.0 1114.50 L771.0 1114.50 L773.0 1114.50 L775.0 1114.50 L777.0 1114.50 L779.0 1114.50 L781.0 1114.50 L783.0 1114.50 L785.0 1114.50 L787.0 1114.50 L789.0 1114.50 L791.0 1114.50 L793.0 1114.50 L795.0 1114.50 L797.0 1114.50 L799.0 1114.50 L801.0 1114.50 L803.0 1114.50 L805.0 1114.50 L807.0 1114.50 L809.0 1114.50 L811.0 1114.50 L813.0 1114.50 L815.0 1114.50 L817.0 1114.50 L819.0 1114.50 L821.0 1114.50 L823.0 1114.50 L825.0 1114.50 L827.0 1114.50 L829.0 1114.50 L831.0 1114.50 L833.0 1114.50 L835.0 1114.50 L837.0 1114.50 L839.0 1114.50 L841.0 1114.50 L843.0 1114.50 L845.0 1114.50 L847.0 1114.50 L849.0 1114.50 L851.0 1114.50 L853.0 1114.50 L855.0 1114.50 L857.0 1114.50 L859.0 1114.50 L861.0 1114.50 L863.0 1114.50 L865.0 1114.50 L867.0 1114.50 L869.0 1114.50 L871.0 1114.50 L873.0 1114.50 L875.0 1114.50 L877.0 1114.50 L879.0 1114.50 L881.0 1114.50 L883.0 1114.50 L885.0 1114.50 L887.0 1114.50 L889.0 1114.50 L891.0 1114.50 L893.0 1114.50 L895.0 1114.50 L897.0 1114.50 L899.0 1114.50 L901.0 1114.50 L903.0 1114.50 L905.0 1114.50 L907.0 1114.50 L909.0 1114.50 L911.0 1114.50 L913.0 1114.50 L915.0 1114.50 L917.0 1114.50 L919.0 1114.50 L921.0 1114.50 L923.0 1114.50 L925.0 1114.50 L927.0 1114.50 L929.0 1114.50 L931.0 1114.50 L933.0 1114.50 L935.0 1114.50 L937.0 1114.50 L939.0 1114.50 L941.0 1114.50 L943.0 1114.50 L945.0 1114.50 L947.0 1114.50 L949.0 1114.50 L951.0 1114.50 L953.0 1114.50 L955.0 1114.50 L957.0 1114.50 L959.0 1114.50 L961.0 1114.50 L963.0 1114.50 L965.0 1114.50 L967.0 1114.50 L969.0 1114.50 L971.0 1114.50 L973.0 1114.50 L975.0 1114.50 L977.0 1114.50 L979.0 1114.50 L981.0 1114.50 L983.0 1114.50 L985.0 1114.50 L987.0 1114.50 L989.0 1114.50 L991.0 1114.50 L993.0 1114.50 L995.0 1114.50 L997.0 1114.50 L999.0 1114.50 L1001.0 1114.50 L1003.0 1114.50 L1005.0 1114.50 L1007.0 1114.50 L1009.0 1114.50 L1011.0 1114.50 L1013.0 1114.50 L1015.0 1114.50 L1017.0 1114.50 L1019.0 1114.50 L1021.0 1114.50 L1023.0 1114.50 L1025.0 1114.50 L1027.0 1114.50 L1029.0 1114.50 L1031.0 1114.50 L1033.0 1114.50 L1035.0 1114.50 L1037.0 1114.50 L1039.0 1114.50 L1041.0 1114.50 L1043.0 1114.50 L1045.0 1114.50 L1047.0 1114.50 L1049.0 1114.50 L1051.0 1114.50 L1053.0 1114.50 L1055.0 1114.50 L1057.0 1114.50 L1059.0 1114.50 L1061.0 1114.50 L1063.0 1114.50 L1065.0 1114.50 L1067.0 1114.50 L1069.0 1114.50 L1071.0 1114.50 L1073.0 1114.50 L1075.0 1114.50 L1077.0 1114.50 L1079.0 1114.50 L1081.0 1114.50 L1083.0 1114.50 L1085.0 1114.50 L1087.0 1114.50 L1089.0 1114.50 L1091.0 1114.50 L1093.0 1114.50 L1095.0 1114.50 L1097.0 1114.50 L1099.0 1114.50 L1101.0 1114.50 L1103.0 1114.50 L1105.0 1114.50 L1107.0 1114.50 L1109.0 1114.50 L1111.0 1114.50 L1113.0 1114.50 L1115.0 1114.50 L1117.0 1114.50 L1119.0 1114.50 L1121.0 1114.50 L1123.0 1114.50 L1125.0 1114.50 L1127.0 1114.50 L1129.0 1114.50 L1131.0 1114.50 L1133.0 1114.50 L1135.0 1114.50 L1137.0 1114.50 L1139.0 1114.50 L1141.0 1114.50 L1143.0 1114.50 L1145.0 1114.50 L1147.0 1114.50 L1149.0 1114.50 L1151.0 1114.50 L1153.0 1114.50 L1155.0 1114.50 L1157.0 1114.50 L1159.0 1114.50 L1161.0 1114.50 L1163.0 1114.50 L1165.0 1114.50 L1167.0 1114.50 L1169.0 1114.50 L1171.0 1114.50 L1173.0 1114.50 L1175.0 1114.50 L1177.0 1114.50 L1179.0 1114.50 L1181.0 1114.50 L1183.0 1114.50 L1185.0 1114.50 L1187.0 1114.50 L1189.0 1114.50 L1191.0 1114.50 L1193.0 1114.50 L1195.0 1114.50 L1197.0 1114.50 L1199.0 1114.50 L1201.0 1114.50 L1203.0 1114.50 L1205.0 1114.50 L1207.0 1114.50 L1209.0 1114.50 L1211.0 1114.50 L1213.0 1114.50 L1215.0 1114.50 L1217.0 1114.50 L1219.0 1114.50 L1221.0 1114.50 L1223.0 1114.50 L1225.0 1114.50 L1227.0 1114.50 L1229.0 1114.50 L1231.0 1114.50 L1233.0 1114.50 L1235.0 1114.50 L1237.0 1114.50 L1239.0 1114.50 L1241.0 1114.50 L1243.0 1114.50 L1245.0 1114.50 L1247.0 1114.50 L1249.0 1114.50 L1251.0 1114.50 L1253.0 1114.50 L1255.0 1114.50 L1257.0 1114.50 L1259.0 1114.50 L1261.0 1114.50 L1263.0 1114.50 L1265.0 1114.50 L1267.0 1114.50 L1269.0 1114.50 L1271.0 1114.50 L1273.0 1114.50 L1275.0 1114.50 L1277.0 1114.50 L1279.0 1114.50 L1281.0 1114.50 L1283.0 1114.50 L1285.0 1114.50 L1287.0 1114.50 L1289.0 1114.50 L1291.0 1114.50 L1293.0 1114.50 L1295.0 1114.50 L1297.0 1114.50 L1299.0 1114.50 L1301.0 1114.50 L1303.0 1114.50 L1305.0 1114.50 L1307.0 1114.50 L1309.0 1114.50" stroke="#00cc00" stroke-width="7.8" stroke-linecap="round" stroke-dasharray="1.0 14.00" stroke-dashoffset="2.0"/>
<path d="M131.0 1114.50 L133.0 1114.50 L135.0 1114.50 L137.0 1114.50 L139.0 1114.50 L141.0 1114.50 L143.0 1114.50 L145.0 1114.50 L147.0 1114.50 L149.0 1114.50 L151.0 1114.50 L153.0 1114.50 L155.0 1114.50 L157.0 1114.50 L159.0 1114.50 L161.0 1114.50 L163.0 1114.50 L165.0 1114.50 L167.0 1114.50 L169.0 1114.50 L171.0 1114.50 L173.0 1114.50 L175.0 1114.50 L177.0 1114.50 L179.0 1114.50 L181.0 1114.50 L183.0 1114.50 L185.0 1114.50 L187.0 1114.50 L189.0 1114.49 L191.0 1114.49 L193.0 1114.49 L195.0 1114.49 L197.0 1114.49 L199.0 1114.49 L201.0 1114.48 L203.0 1114.48 L205.0 1114.48 L207.0 1114.48 L209.0 1114.47 L211.0 1114.47 L213.0 1114.46 L215.0 1114.45 L217.0 1114.45 L219.0 1114.44 L221.0 1114.43 L223.0 1114.42 L225.0 1114.41 L227.0 1114.39 L229.0 1114.38 L231.0 1114.36 L233.0 1114.34 L235.0 1114.31 L237.0 1114.28 L239.0 1114.25 L241.0 1114.22 L243.0 1114.18 L245.0 1114.14 L247.0 1114.09 L249.0 1114.03 L251.0 1113.97 L253.0 1113.90 L255.0 1113.82 L257.0 1113.74 L259.0 1113.64 L261.0 1113.53 L263.0 1113.42 L265.0 1113.29 L267.0 1113.14 L269.0 1112.98 L271.0 1112.80 L273.0 1112.61 L275.0 1112.40 L277.0 1112.16 L279.0 1111.91 L281.0 1111.63 L283.0 1111.32 L285.0 1110.99 L287.0 1110.63 L289.0 1110.24 L291.0 1109.81 L293.0 1109.35 L295.0 1108.86 L297.0 1108.32 L299.0 1107.74 L301.0 1107.12 L303.0 1106.46 L305.0 1105.74 L307.0 1104.98 L309.0 1104.17 L311.0 1103.30 L313.0 1102.38 L315.0 1101.40 L317.0 1100.36 L319.0 1099.27 L321.0 1098.11 L323.0 1096.89 L325.0 1095.60 L327.0 1094.26 L329.0 1092.84 L331.0 1091.37 L333.0 1089.83 L335.0 1088.22 L337.0 1086.55 L339.0 1084.81 L341.0 1083.02 L343.0 1081.16 L345.0 1079.25 L347.0 1077.28 L349.0 1075.26 L351.0 1073.19 L353.0 1071.08 L355.0 1068.92 L357.0 1066.72 L359.0 1064.49 L361.0 1062.24 L363.0 1059.96 L365.0 1057.66 L367.0 1055.35 L369.0 1053.04 L371.0 1050.74 L373.0 1048.44 L375.0 1046.16 L377.0 1043.90 L379.0 1041.68 L381.0 1039.49 L383.0 1037.35 L385.0 1035.27 L387.0 1033.25 L389.0 1031.29 L391.0 1029.42 L393.0 1027.63 L395.0 1025.93 L397.0 1024.33 L399.0 1022.83 L401.0 1021.44 L403.0 1020.17 L405.0 1019.03 L407.0 1018.01 L409.0 1017.12 L411.0 1016.36 L413.0 1015.74 L415.0 1015.27 L417.0 1014.94 L419.0 1014.75 L421.0 1014.70 L423.0 1014.80 L425.0 1015.05 L427.0 1015.44 L429.0 1015.97 L431.0 1016.65 L433.0 1017.46 L435.0 1018.40 L437.0 1019.47 L439.0 1020.67 L441.0 1021.98 L443.0 1023.41 L445.0 1024.95 L447.0 1026.60 L449.0 1028.33 L451.0 1030.16 L453.0 1032.07 L455.0 1034.05 L457.0 1036.09 L459.0 1038.20 L461.0 1040.36 L463.0 1042.56 L465.0 1044.80 L467.0 1047.07 L469.0 1049.36 L471.0 1051.66 L473.0 1053.97 L475.0 1056.28 L477.0 1058.58 L479.0 1060.87 L481.0 1063.14 L483.0 1065.39 L485.0 1067.60 L487.0 1069.79 L489.0 1071.93 L491.0 1074.03 L493.0 1076.08 L495.0 1078.08 L497.0 1080.02 L499.0 1081.91 L501.0 1083.75 L503.0 1085.52 L505.0 1087.22 L507.0 1088.87 L509.0 1090.45 L511.0 1091.97 L513.0 1093.42 L515.0 1094.80 L517.0 1096.13 L519.0 1097.38 L521.0 1098.58 L523.0 1099.71 L525.0 1100.79 L527.0 1101.80 L529.0 1102.76 L531.0 1103.65 L533.0 1104.50 L535.0 1105.29 L537.0 1106.04 L539.0 1106.73 L541.0 1107.38 L543.0 1107.98 L545.0 1108.54 L547.0 1109.06 L549.0 1109.54 L551.0 1109.99 L553.0 1110.40 L555.0 1110.78 L557.0 1111.13 L559.0 1111.45 L561.0 1111.74 L563.0 1112.01 L565.0 1112.26 L567.0 1112.49 L569.0 1112.69 L571.0 1112.88 L573.0 1113.05 L575.0 1113.20 L577.0 1113.34 L579.0 1113.47 L581.0 1113.58 L583.0 1113.68 L585.0 1113.77 L587.0 1113.86 L589.0 1113.93 L591.0 1114.00 L593.0 1114.05 L595.0 1114.11 L597.0 1114.15 L599.0 1114.20 L601.0 1114.23 L603.0 1114.27 L605.0 1114.30 L607.0 1114.32 L609.0 1114.34 L611.0 1114.36 L613.0 1114.38 L615.0 1114.40 L617.0 1114.41 L619.0 1114.42 L621.0 1114.43 L623.0 1114.44 L625.0 1114.45 L627.0 1114.46 L629.0 1114.46 L631.0 1114.47 L633.0 1114.47 L635.0 1114.48 L637.0 1114.48 L639.0 1114.48 L641.0 1114.49 L643.0 1114.49 L645.0 1114.49 L647.0 1114.49 L649.0 1114.49 L651.0 1114.49 L653.0 1114.49 L655.0 1114.50 L657.0 1114.50 L659.0 1114.50 L661.0 1114.50 L663.0 1114.50 L665.0 1114.50 L667.0 1114.50 L669.0 1114.50 L671.0 1114.50 L673.0 1114.50 L675.0 1114.50 L677.0 1114.50 L679.0 1114.50 L681.0 1114.50 L683.0 1114.50 L685.0 1114.50 L687.0 1114.50 L689.0 1114.50 L691.0 1114.50 L693.0 1114.50 L695.0 1114.50 L697.0 1114.50 L699.0 1114.50 L701.0 1114.50 L703.0 1114.50 L705.0 1114.50 L707.0 1114.50 L709.0 1114.50 L711.0 1114.50 L713.0 1114.50 L715.0 1114.50 L717.0 1114.50 L719.0 1114.50 L721.0 1114.50 L723.0 1114.50 L725.0 1114.50 L727.0 1114.50 L729.0 1114.50 L731.0 1114.50 L733.0 1114.50 L735.0 1114.50 L737.0 1114.50 L739.0 1114.50 L741.0 1114.50 L743.0 1114.50 L745.0 1114.50 L747.0 1114.50 L749.0 1114.50 L751.0 1114.50 L753.0 1114.50 L755.0 1114.50 L757.0 1114.50 L759.0 1114.50 L761.0 1114.50 L763.0 1114.50 L765.0 1114.50 L767.0 1114.50 L769.0 1114.50 L771.0 1114.50 L773.0 1114.50 L775.0 1114.50 L777.0 1114.50 L779.0 1114.50 L781.0 1114.50 L783.0 1114.50 L785.0 1114.50 L787.0 1114.50 L789.0 1114.50 L791.0 1114.50 L793.0 1114.50 L795.0 1114.50 L797.0 1114.50 L799.0 1114.50 L801.0 1114.50 L803.0 1114.50 L805.0 1114.50 L807.0 1114.50 L809.0 1114.50 L811.0 1114.50 L813.0 1114.50 L815.0 1114.50 L817.0 1114.50 L819.0 1114.50 L821.0 1114.50 L823.0 1114.50 L825.0 1114.50 L827.0 1114.50 L829.0 1114.50 L831.0 1114.50 L833.0 1114.50 L835.0 1114.50 L837.0 1114.50 L839.0 1114.50 L841.0 1114.50 L843.0 1114.50 L845.0 1114.50 L847.0 1114.50 L849.0 1114.50 L851.0 1114.50 L853.0 1114.50 L855.0 1114.50 L857.0 1114.50 L859.0 1114.50 L861.0 1114.50 L863.0 1114.50 L865.0 1114.50 L867.0 1114.50 L869.0 1114.50 L871.0 1114.50 L873.0 1114.50 L875.0 1114.50 L877.0 1114.50 L879.0 1114.50 L881.0 1114.50 L883.0 1114.50 L885.0 1114.50 L887.0 1114.50 L889.0 1114.50 L891.0 1114.50 L893.0 1114.50 L895.0 1114.50 L897.0 1114.50 L899.0 1114.50 L901.0 1114.50 L903.0 1114.50 L905.0 1114.50 L907.0 1114.50 L909.0 1114.50 L911.0 1114.50 L913.0 1114.50 L915.0 1114.50 L917.0 1114.50 L919.0 1114.50 L921.0 1114.50 L923.0 1114.50 L925.0 1114.50 L927.0 1114.50 L929.0 1114.50 L931.0 1114.50 L933.0 1114.50 L935.0 1114.50 L937.0 1114.50 L939.0 1114.50 L941.0 1114.50 L943.0 1114.50 L945.0 1114.50 L947.0 1114.50 L949.0 1114.50 L951.0 1114.50 L953.0 1114.50 L955.0 1114.50 L957.0 1114.50 L959.0 1114.50 L961.0 1114.50 L963.0 1114.50 L965.0 1114.50 L967.0 1114.50 L969.0 1114.50 L971.0 1114.50 L973.0 1114.50 L975.0 1114.50 L977.0 1114.50 L979.0 1114.50 L981.0 1114.50 L983.0 1114.50 L985.0 1114.50 L987.0 1114.50 L989.0 1114.50 L991.0 1114.50 L993.0 1114.50 L995.0 1114.50 L997.0 1114.50 L999.0 1114.50 L1001.0 1114.50 L1003.0 1114.50 L1005.0 1114.50 L1007.0 1114.50 L1009.0 1114.50 L1011.0 1114.50 L1013.0 1114.50 L1015.0 1114.50 L1017.0 1114.50 L1019.0 1114.50 L1021.0 1114.50 L1023.0 1114.50 L1025.0 1114.50 L1027.0 1114.50 L1029.0 1114.50 L1031.0 1114.50 L1033.0 1114.50 L1035.0 1114.50 L1037.0 1114.50 L1039.0 1114.50 L1041.0 1114.50 L1043.0 1114.50 L1045.0 1114.50 L1047.0 1114.50 L1049.0 1114.50 L1051.0 1114.50 L1053.0 1114.50 L1055.0 1114.50 L1057.0 1114.50 L1059.0 1114.50 L1061.0 1114.50 L1063.0 1114.50 L1065.0 1114.50 L1067.0 1114.50 L1069.0 1114.50 L1071.0 1114.50 L1073.0 1114.50 L1075.0 1114.50 L1077.0 1114.50 L1079.0 1114.50 L1081.0 1114.50 L1083.0 1114.50 L1085.0 1114.50 L1087.0 1114.50 L1089.0 1114.50 L1091.0 1114.50 L1093.0 1114.50 L1095.0 1114.50 L1097.0 1114.50 L1099.0 1114.50 L1101.0 1114.50 L1103.0 1114.50 L1105.0 1114.50 L1107.0 1114.50 L1109.0 1114.50 L1111.0 1114.50 L1113.0 1114.50 L1115.0 1114.50 L1117.0 1114.50 L1119.0 1114.50 L1121.0 1114.50 L1123.0 1114.50 L1125.0 1114.50 L1127.0 1114.50 L1129.0 1114.50 L1131.0 1114.50 L1133.0 1114.50 L1135.0 1114.50 L1137.0 1114.50 L1139.0 1114.50 L1141.0 1114.50 L1143.0 1114.50 L1145.0 1114.50 L1147.0 1114.50 L1149.0 1114.50 L1151.0 1114.50 L1153.0 1114.50 L1155.0 1114.50 L1157.0 1114.50 L1159.0 1114.50 L1161.0 1114.50 L1163.0 1114.50 L1165.0 1114.50 L1167.0 1114.50 L1169.0 1114.50 L1171.0 1114.50 L1173.0 1114.50 L1175.0 1114.50 L1177.0 1114.50 L1179.0 1114.50 L1181.0 1114.50 L1183.0 1114.50 L1185.0 1114.50 L1187.0 1114.50 L1189.0 1114.50 L1191.0 1114.50 L1193.0 1114.50 L1195.0 1114.50 L1197.0 1114.50 L1199.0 1114.50 L1201.0 1114.50 L1203.0 1114.50 L1205.0 1114.50 L1207.0 1114.50 L1209.0 1114.50 L1211.0 1114.50 L1213.0 1114.50 L1215.0 1114.50 L1217.0 1114.50 L1219.0 1114.50 L1221.0 1114.50 L1223.0 1114.50 L1225.0 1114.50 L1227.0 1114.50 L1229.0 1114.50 L1231.0 1114.50 L1233.0 1114.50 L1235.0 1114.50 L1237.0 1114.50 L1239.0 1114.50 L1241.0 1114.50 L1243.0 1114.50 L1245.0 1114.50 L1247.0 1114.50 L1249.0 1114.50 L1251.0 1114.50 L1253.0 1114.50 L1255.0 1114.50 L1257.0 1114.50 L1259.0 1114.50 L1261.0 1114.50 L1263.0 1114.50 L1265.0 1114.50 L1267.0 1114.50 L1269.0 1114.50 L1271.0 1114.50 L1273.0 1114.50 L1275.0 1114.50 L1277.0 1114.50 L1279.0 1114.50 L1281.0 1114.50 L1283.0 1114.50 L1285.0 1114.50 L1287.0 1114.50 L1289.0 1114.50 L1291.0 1114.50 L1293.0 1114.50 L1295.0 1114.50 L1297.0 1114.50 L1299.0 1114.50 L1301.0 1114.50 L1303.0 1114.50 L1305.0 1114.50 L1307.0 1114.50 L1309.0 1114.50" stroke="#ff0ae0" stroke-width="7.8" stroke-linecap="round" stroke-dasharray="1.0 14.00" stroke-dashoffset="0.3"/>
<path d="M131.0 1114.50 L133.0 1114.50 L135.0 1114.50 L137.0 1114.50 L139.0 1114.50 L141.0 1114.50 L143.0 1114.50 L145.0 1114.50 L147.0 1114.50 L149.0 1114.50 L151.0 1114.50 L153.0 1114.50 L155.0 1114.50 L157.0 1114.50 L159.0 1114.50 L161.0 1114.50 L163.0 1114.50 L165.0 1114.50 L167.0 1114.50 L169.0 1114.50 L171.0 1114.50 L173.0 1114.50 L175.0 1114.50 L177.0 1114.50 L179.0 1114.50 L181.0 1114.50 L183.0 1114.50 L185.0 1114.50 L187.0 1114.50 L189.0 1114.50 L191.0 1114.50 L193.0 1114.50 L195.0 1114.50 L197.0 1114.50 L199.0 1114.50 L201.0 1114.50 L203.0 1114.50 L205.0 1114.50 L207.0 1114.50 L209.0 1114.50 L211.0 1114.50 L213.0 1114.50 L215.0 1114.50 L217.0 1114.50 L219.0 1114.50 L221.0 1114.50 L223.0 1114.50 L225.0 1114.50 L227.0 1114.50 L229.0 1114.50 L231.0 1114.50 L233.0 1114.50 L235.0 1114.50 L237.0 1114.50 L239.0 1114.50 L241.0 1114.50 L243.0 1114.50 L245.0 1114.50 L247.0 1114.50 L249.0 1114.50 L251.0 1114.50 L253.0 1114.50 L255.0 1114.50 L257.0 1114.50 L259.0 1114.50 L261.0 1114.50 L263.0 1114.50 L265.0 1114.50 L267.0 1114.50 L269.0 1114.50 L271.0 1114.50 L273.0 1114.50 L275.0 1114.50 L277.0 1114.50 L279.0 1114.49 L281.0 1114.49 L283.0 1114.49 L285.0 1114.49 L287.0 1114.49 L289.0 1114.49 L291.0 1114.49 L293.0 1114.49 L295.0 1114.49 L297.0 1114.48 L299.0 1114.48 L301.0 1114.48 L303.0 1114.48 L305.0 1114.47 L307.0 1114.47 L309.0 1114.47 L311.0 1114.46 L313.0 1114.46 L315.0 1114.45 L317.0 1114.45 L319.0 1114.44 L321.0 1114.43 L323.0 1114.43 L325.0 1114.42 L327.0 1114.41 L329.0 1114.40 L331.0 1114.39 L333.0 1114.37 L335.0 1114.36 L337.0 1114.34 L339.0 1114.33 L341.0 1114.31 L343.0 1114.28 L345.0 1114.26 L347.0 1114.24 L349.0 1114.21 L351.0 1114.18 L353.0 1114.14 L355.0 1114.11 L357.0 1114.07 L359.0 1114.02 L361.0 1113.97 L363.0 1113.92 L365.0 1113.86 L367.0 1113.80 L369.0 1113.73 L371.0 1113.66 L373.0 1113.58 L375.0 1113.49 L377.0 1113.40 L379.0 1113.30 L381.0 1113.19 L383.0 1113.07 L385.0 1112.94 L387.0 1112.81 L389.0 1112.66 L391.0 1112.50 L393.0 1112.33 L395.0 1112.14 L397.0 1111.95 L399.0 1111.73 L401.0 1111.51 L403.0 1111.27 L405.0 1111.01 L407.0 1110.73 L409.0 1110.44 L411.0 1110.12 L413.0 1109.79 L415.0 1109.43 L417.0 1109.05 L419.0 1108.65 L421.0 1108.23 L423.0 1107.78 L425.0 1107.30 L427.0 1106.80 L429.0 1106.27 L431.0 1105.71 L433.0 1105.12 L435.0 1104.50 L437.0 1103.84 L439.0 1103.16 L441.0 1102.44 L443.0 1101.68 L445.0 1100.89 L447.0 1100.07 L449.0 1099.21 L451.0 1098.30 L453.0 1097.37 L455.0 1096.39 L457.0 1095.37 L459.0 1094.31 L461.0 1093.22 L463.0 1092.08 L465.0 1090.90 L467.0 1089.68 L469.0 1088.42 L471.0 1087.12 L473.0 1085.78 L475.0 1084.40 L477.0 1082.98 L479.0 1081.53 L481.0 1080.03 L483.0 1078.50 L485.0 1076.93 L487.0 1075.33 L489.0 1073.70 L491.0 1072.03 L493.0 1070.33 L495.0 1068.61 L497.0 1066.86 L499.0 1065.08 L501.0 1063.29 L503.0 1061.47 L505.0 1059.63 L507.0 1057.78 L509.0 1055.92 L511.0 1054.05 L513.0 1052.18 L515.0 1050.30 L517.0 1048.42 L519.0 1046.54 L521.0 1044.67 L523.0 1042.81 L525.0 1040.97 L527.0 1039.14 L529.0 1037.33 L531.0 1035.55 L533.0 1033.80 L535.0 1032.07 L537.0 1030.39 L539.0 1028.74 L541.0 1027.14 L543.0 1025.58 L545.0 1024.07 L547.0 1022.62 L549.0 1021.22 L551.0 1019.88 L553.0 1018.61 L555.0 1017.40 L557.0 1016.26 L559.0 1015.20 L561.0 1014.21 L563.0 1013.29 L565.0 1012.46 L567.0 1011.70 L569.0 1011.04 L571.0 1010.45 L573.0 1009.95 L575.0 1009.54 L577.0 1009.22 L579.0 1008.99 L581.0 1008.85 L583.0 1008.80 L585.0 1008.84 L587.0 1008.97 L589.0 1009.19 L591.0 1009.51 L593.0 1009.91 L595.0 1010.40 L597.0 1010.97 L599.0 1011.63 L601.0 1012.38 L603.0 1013.21 L605.0 1014.11 L607.0 1015.10 L609.0 1016.15 L611.0 1017.28 L613.0 1018.49 L615.0 1019.75 L617.0 1021.08 L619.0 1022.48 L621.0 1023.92 L623.0 1025.43 L625.0 1026.98 L627.0 1028.58 L629.0 1030.22 L631.0 1031.90 L633.0 1033.62 L635.0 1035.37 L637.0 1037.15 L639.0 1038.96 L641.0 1040.78 L643.0 1042.63 L645.0 1044.48 L647.0 1046.35 L649.0 1048.23 L651.0 1050.11 L653.0 1051.99 L655.0 1053.86 L657.0 1055.74 L659.0 1057.60 L661.0 1059.45 L663.0 1061.29 L665.0 1063.10 L667.0 1064.90 L669.0 1066.68 L671.0 1068.44 L673.0 1070.16 L675.0 1071.86 L677.0 1073.53 L679.0 1075.17 L681.0 1076.78 L683.0 1078.35 L685.0 1079.88 L687.0 1081.38 L689.0 1082.84 L691.0 1084.26 L693.0 1085.65 L695.0 1086.99 L697.0 1088.29 L699.0 1089.56 L701.0 1090.78 L703.0 1091.96 L705.0 1093.10 L707.0 1094.20 L709.0 1095.27 L711.0 1096.29 L713.0 1097.27 L715.0 1098.21 L717.0 1099.12 L719.0 1099.98 L721.0 1100.81 L723.0 1101.61 L725.0 1102.37 L727.0 1103.09 L729.0 1103.78 L731.0 1104.43 L733.0 1105.06 L735.0 1105.65 L737.0 1106.21 L739.0 1106.75 L741.0 1107.25 L743.0 1107.73 L745.0 1108.19 L747.0 1108.61 L749.0 1109.02 L751.0 1109.40 L753.0 1109.75 L755.0 1110.09 L757.0 1110.41 L759.0 1110.70 L761.0 1110.98 L763.0 1111.24 L765.0 1111.48 L767.0 1111.71 L769.0 1111.93 L771.0 1112.12 L773.0 1112.31 L775.0 1112.48 L777.0 1112.64 L779.0 1112.79 L781.0 1112.93 L783.0 1113.06 L785.0 1113.18 L787.0 1113.29 L789.0 1113.39 L791.0 1113.49 L793.0 1113.57 L795.0 1113.65 L797.0 1113.73 L799.0 1113.80 L801.0 1113.86 L803.0 1113.92 L805.0 1113.97 L807.0 1114.02 L809.0 1114.06 L811.0 1114.10 L813.0 1114.14 L815.0 1114.17 L817.0 1114.20 L819.0 1114.23 L821.0 1114.26 L823.0 1114.28 L825.0 1114.30 L827.0 1114.32 L829.0 1114.34 L831.0 1114.36 L833.0 1114.37 L835.0 1114.38 L837.0 1114.40 L839.0 1114.41 L841.0 1114.42 L843.0 1114.43 L845.0 1114.43 L847.0 1114.44 L849.0 1114.45 L851.0 1114.45 L853.0 1114.46 L855.0 1114.46 L857.0 1114.47 L859.0 1114.47 L861.0 1114.47 L863.0 1114.48 L865.0 1114.48 L867.0 1114.48 L869.0 1114.48 L871.0 1114.49 L873.0 1114.49 L875.0 1114.49 L877.0 1114.49 L879.0 1114.49 L881.0 1114.49 L883.0 1114.49 L885.0 1114.49 L887.0 1114.49 L889.0 1114.50 L891.0 1114.50 L893.0 1114.50 L895.0 1114.50 L897.0 1114.50 L899.0 1114.50 L901.0 1114.50 L903.0 1114.50 L905.0 1114.50 L907.0 1114.50 L909.0 1114.50 L911.0 1114.50 L913.0 1114.50 L915.0 1114.50 L917.0 1114.50 L919.0 1114.50 L921.0 1114.50 L923.0 1114.50 L925.0 1114.50 L927.0 1114.50 L929.0 1114.50 L931.0 1114.50 L933.0 1114.50 L935.0 1114.50 L937.0 1114.50 L939.0 1114.50 L941.0 1114.50 L943.0 1114.50 L945.0 1114.50 L947.0 1114.50 L949.0 1114.50 L951.0 1114.50 L953.0 1114.50 L955.0 1114.50 L957.0 1114.50 L959.0 1114.50 L961.0 1114.50 L963.0 1114.50 L965.0 1114.50 L967.0 1114.50 L969.0 1114.50 L971.0 1114.50 L973.0 1114.50 L975.0 1114.50 L977.0 1114.50 L979.0 1114.50 L981.0 1114.50 L983.0 1114.50 L985.0 1114.50 L987.0 1114.50 L989.0 1114.50 L991.0 1114.50 L993.0 1114.50 L995.0 1114.50 L997.0 1114.50 L999.0 1114.50 L1001.0 1114.50 L1003.0 1114.50 L1005.0 1114.50 L1007.0 1114.50 L1009.0 1114.50 L1011.0 1114.50 L1013.0 1114.50 L1015.0 1114.50 L1017.0 1114.50 L1019.0 1114.50 L1021.0 1114.50 L1023.0 1114.50 L1025.0 1114.50 L1027.0 1114.50 L1029.0 1114.50 L1031.0 1114.50 L1033.0 1114.50 L1035.0 1114.50 L1037.0 1114.50 L1039.0 1114.50 L1041.0 1114.50 L1043.0 1114.50 L1045.0 1114.50 L1047.0 1114.50 L1049.0 1114.50 L1051.0 1114.50 L1053.0 1114.50 L1055.0 1114.50 L1057.0 1114.50 L1059.0 1114.50 L1061.0 1114.50 L1063.0 1114.50 L1065.0 1114.50 L1067.0 1114.50 L1069.0 1114.50 L1071.0 1114.50 L1073.0 1114.50 L1075.0 1114.50 L1077.0 1114.50 L1079.0 1114.50 L1081.0 1114.50 L1083.0 1114.50 L1085.0 1114.50 L1087.0 1114.50 L1089.0 1114.50 L1091.0 1114.50 L1093.0 1114.50 L1095.0 1114.50 L1097.0 1114.50 L1099.0 1114.50 L1101.0 1114.50 L1103.0 1114.50 L1105.0 1114.50 L1107.0 1114.50 L1109.0 1114.50 L1111.0 1114.50 L1113.0 1114.50 L1115.0 1114.50 L1117.0 1114.50 L1119.0 1114.50 L1121.0 1114.50 L1123.0 1114.50 L1125.0 1114.50 L1127.0 1114.50 L1129.0 1114.50 L1131.0 1114.50 L1133.0 1114.50 L1135.0 1114.50 L1137.0 1114.50 L1139.0 1114.50 L1141.0 1114.50 L1143.0 1114.50 L1145.0 1114.50 L1147.0 1114.50 L1149.0 1114.50 L1151.0 1114.50 L1153.0 1114.50 L1155.0 1114.50 L1157.0 1114.50 L1159.0 1114.50 L1161.0 1114.50 L1163.0 1114.50 L1165.0 1114.50 L1167.0 1114.50 L1169.0 1114.50 L1171.0 1114.50 L1173.0 1114.50 L1175.0 1114.50 L1177.0 1114.50 L1179.0 1114.50 L1181.0 1114.50 L1183.0 1114.50 L1185.0 1114.50 L1187.0 1114.50 L1189.0 1114.50 L1191.0 1114.50 L1193.0 1114.50 L1195.0 1114.50 L1197.0 1114.50 L1199.0 1114.50 L1201.0 1114.50 L1203.0 1114.50 L1205.0 1114.50 L1207.0 1114.50 L1209.0 1114.50 L1211.0 1114.50 L1213.0 1114.50 L1215.0 1114.50 L1217.0 1114.50 L1219.0 1114.50 L1221.0 1114.50 L1223.0 1114.50 L1225.0 1114.50 L1227.0 1114.50 L1229.0 1114.50 L1231.0 1114.50 L1233.0 1114.50 L1235.0 1114.50 L1237.0 1114.50 L1239.0 1114.50 L1241.0 1114.50 L1243.0 1114.50 L1245.0 1114.50 L1247.0 1114.50 L1249.0 1114.50 L1251.0 1114.50 L1253.0 1114.50 L1255.0 1114.50 L1257.0 1114.50 L1259.0 1114.50 L1261.0 1114.50 L1263.0 1114.50 L1265.0 1114.50 L1267.0 1114.50 L1269.0 1114.50 L1271.0 1114.50 L1273.0 1114.50 L1275.0 1114.50 L1277.0 1114.50 L1279.0 1114.50 L1281.0 1114.50 L1283.0 1114.50 L1285.0 1114.50 L1287.0 1114.50 L1289.0 1114.50 L1291.0 1114.50 L1293.0 1114.50 L1295.0 1114.50 L1297.0 1114.50 L1299.0 1114.50 L1301.0 1114.50 L1303.0 1114.50 L1305.0 1114.50 L1307.0 1114.50 L1309.0 1114.50" stroke="#00bfbf" stroke-width="7.8" stroke-linecap="round" stroke-dasharray="1.0 14.00" stroke-dashoffset="3.0"/>
<path d="M131.0 1113.89 L133.0 1113.86 L135.0 1113.84 L137.0 1113.81 L139.0 1113.79 L141.0 1113.76 L143.0 1113.73 L145.0 1113.70 L147.0 1113.67 L149.0 1113.64 L151.0 1113.61 L153.0 1113.58 L155.0 1113.55 L157.0 1113.51 L159.0 1113.47 L161.0 1113.44 L163.0 1113.40 L165.0 1113.36 L167.0 1113.32 L169.0 1113.28 L171.0 1113.23 L173.0 1113.19 L175.0 1113.14 L177.0 1113.09 L179.0 1113.05 L181.0 1113.00 L183.0 1112.94 L185.0 1112.89 L187.0 1112.83 L189.0 1112.78 L191.0 1112.72 L193.0 1112.66 L195.0 1112.60 L197.0 1112.53 L199.0 1112.47 L201.0 1112.40 L203.0 1112.33 L205.0 1112.26 L207.0 1112.18 L209.0 1112.11 L211.0 1112.03 L213.0 1111.95 L215.0 1111.87 L217.0 1111.78 L219.0 1111.69 L221.0 1111.60 L223.0 1111.51 L225.0 1111.42 L227.0 1111.32 L229.0 1111.22 L231.0 1111.12 L233.0 1111.01 L235.0 1110.91 L237.0 1110.80 L239.0 1110.68 L241.0 1110.57 L243.0 1110.45 L245.0 1110.32 L247.0 1110.20 L249.0 1110.07 L251.0 1109.94 L253.0 1109.80 L255.0 1109.67 L257.0 1109.52 L259.0 1109.38 L261.0 1109.23 L263.0 1109.08 L265.0 1108.92 L267.0 1108.76 L269.0 1108.60 L271.0 1108.43 L273.0 1108.26 L275.0 1108.09 L277.0 1107.91 L279.0 1107.73 L281.0 1107.54 L283.0 1107.35 L285.0 1107.16 L287.0 1106.96 L289.0 1106.75 L291.0 1106.55 L293.0 1106.33 L295.0 1106.12 L297.0 1105.89 L299.0 1105.67 L301.0 1105.44 L303.0 1105.20 L305.0 1104.96 L307.0 1104.72 L309.0 1104.47 L311.0 1104.21 L313.0 1103.95 L315.0 1103.69 L317.0 1103.42 L319.0 1103.14 L321.0 1102.86 L323.0 1102.58 L325.0 1102.29 L327.0 1101.99 L329.0 1101.69 L331.0 1101.38 L333.0 1101.07 L335.0 1100.75 L337.0 1100.43 L339.0 1100.10 L341.0 1099.76 L343.0 1099.42 L345.0 1099.08 L347.0 1098.72 L349.0 1098.37 L351.0 1098.00 L353.0 1097.63 L355.0 1097.26 L357.0 1096.88 L359.0 1096.49 L361.0 1096.10 L363.0 1095.70 L365.0 1095.29 L367.0 1094.88 L369.0 1094.47 L371.0 1094.04 L373.0 1093.61 L375.0 1093.18 L377.0 1092.74 L379.0 1092.29 L381.0 1091.84 L383.0 1091.38 L385.0 1090.92 L387.0 1090.45 L389.0 1089.97 L391.0 1089.49 L393.0 1089.00 L395.0 1088.51 L397.0 1088.01 L399.0 1087.50 L401.0 1086.99 L403.0 1086.47 L405.0 1085.95 L407.0 1085.42 L409.0 1084.88 L411.0 1084.34 L413.0 1083.80 L415.0 1083.25 L417.0 1082.69 L419.0 1082.13 L421.0 1081.56 L423.0 1080.99 L425.0 1080.41 L427.0 1079.83 L429.0 1079.24 L431.0 1078.65 L433.0 1078.05 L435.0 1077.45 L437.0 1076.84 L439.0 1076.23 L441.0 1075.61 L443.0 1074.99 L445.0 1074.37 L447.0 1073.74 L449.0 1073.10 L451.0 1072.47 L453.0 1071.83 L455.0 1071.18 L457.0 1070.53 L459.0 1069.88 L461.0 1069.23 L463.0 1068.57 L465.0 1067.91 L467.0 1067.25 L469.0 1066.58 L471.0 1065.91 L473.0 1065.24 L475.0 1064.56 L477.0 1063.89 L479.0 1063.21 L481.0 1062.53 L483.0 1061.85 L485.0 1061.17 L487.0 1060.48 L489.0 1059.80 L491.0 1059.11 L493.0 1058.42 L495.0 1057.74 L497.0 1057.05 L499.0 1056.36 L501.0 1055.67 L503.0 1054.98 L505.0 1054.30 L507.0 1053.61 L509.0 1052.92 L511.0 1052.24 L513.0 1051.56 L515.0 1050.87 L517.0 1050.19 L519.0 1049.51 L521.0 1048.84 L523.0 1048.16 L525.0 1047.49 L527.0 1046.82 L529.0 1046.15 L531.0 1045.49 L533.0 1044.83 L535.0 1044.17 L537.0 1043.52 L539.0 1042.87 L541.0 1042.23 L543.0 1041.59 L545.0 1040.95 L547.0 1040.32 L549.0 1039.69 L551.0 1039.07 L553.0 1038.46 L555.0 1037.85 L557.0 1037.25 L559.0 1036.65 L561.0 1036.06 L563.0 1035.48 L565.0 1034.90 L567.0 1034.33 L569.0 1033.76 L571.0 1033.21 L573.0 1032.66 L575.0 1032.12 L577.0 1031.59 L579.0 1031.07 L581.0 1030.55 L583.0 1030.04 L585.0 1029.55 L587.0 1029.06 L589.0 1028.58 L591.0 1028.11 L593.0 1027.65 L595.0 1027.20 L597.0 1026.76 L599.0 1026.33 L601.0 1025.91 L603.0 1025.50 L605.0 1025.10 L607.0 1024.71 L609.0 1024.33 L611.0 1023.97 L613.0 1023.61 L615.0 1023.27 L617.0 1022.94 L619.0 1022.62 L621.0 1022.31 L623.0 1022.01 L625.0 1021.73 L627.0 1021.45 L629.0 1021.19 L631.0 1020.95 L633.0 1020.71 L635.0 1020.49 L637.0 1020.28 L639.0 1020.08 L641.0 1019.90 L643.0 1019.73 L645.0 1019.57 L647.0 1019.42 L649.0 1019.29 L651.0 1019.17 L653.0 1019.07 L655.0 1018.97 L657.0 1018.90 L659.0 1018.83 L661.0 1018.78 L663.0 1018.74 L665.0 1018.71 L667.0 1018.70 L669.0 1018.70 L671.0 1018.72 L673.0 1018.75 L675.0 1018.79 L677.0 1018.84 L679.0 1018.91 L681.0 1018.99 L683.0 1019.09 L685.0 1019.20 L687.0 1019.32 L689.0 1019.45 L691.0 1019.60 L693.0 1019.76 L695.0 1019.93 L697.0 1020.12 L699.0 1020.32 L701.0 1020.53 L703.0 1020.76 L705.0 1021.00 L707.0 1021.25 L709.0 1021.51 L711.0 1021.78 L713.0 1022.07 L715.0 1022.37 L717.0 1022.68 L719.0 1023.00 L721.0 1023.34 L723.0 1023.68 L725.0 1024.04 L727.0 1024.41 L729.0 1024.79 L731.0 1025.18 L733.0 1025.58 L735.0 1025.99 L737.0 1026.41 L739.0 1026.84 L741.0 1027.29 L743.0 1027.74 L745.0 1028.20 L747.0 1028.67 L749.0 1029.16 L751.0 1029.65 L753.0 1030.15 L755.0 1030.65 L757.0 1031.17 L759.0 1031.70 L761.0 1032.23 L763.0 1032.77 L765.0 1033.32 L767.0 1033.88 L769.0 1034.44 L771.0 1035.01 L773.0 1035.59 L775.0 1036.18 L777.0 1036.77 L779.0 1037.37 L781.0 1037.97 L783.0 1038.58 L785.0 1039.20 L787.0 1039.82 L789.0 1040.45 L791.0 1041.08 L793.0 1041.71 L795.0 1042.36 L797.0 1043.00 L799.0 1043.65 L801.0 1044.30 L803.0 1044.96 L805.0 1045.62 L807.0 1046.29 L809.0 1046.95 L811.0 1047.62 L813.0 1048.30 L815.0 1048.97 L817.0 1049.65 L819.0 1050.33 L821.0 1051.01 L823.0 1051.69 L825.0 1052.38 L827.0 1053.06 L829.0 1053.75 L831.0 1054.43 L833.0 1055.12 L835.0 1055.81 L837.0 1056.50 L839.0 1057.19 L841.0 1057.87 L843.0 1058.56 L845.0 1059.25 L847.0 1059.93 L849.0 1060.62 L851.0 1061.30 L853.0 1061.98 L855.0 1062.67 L857.0 1063.35 L859.0 1064.02 L861.0 1064.70 L863.0 1065.37 L865.0 1066.04 L867.0 1066.71 L869.0 1067.38 L871.0 1068.04 L873.0 1068.70 L875.0 1069.36 L877.0 1070.01 L879.0 1070.66 L881.0 1071.31 L883.0 1071.95 L885.0 1072.59 L887.0 1073.23 L889.0 1073.86 L891.0 1074.49 L893.0 1075.12 L895.0 1075.74 L897.0 1076.35 L899.0 1076.96 L901.0 1077.57 L903.0 1078.17 L905.0 1078.77 L907.0 1079.36 L909.0 1079.94 L911.0 1080.53 L913.0 1081.10 L915.0 1081.67 L917.0 1082.24 L919.0 1082.80 L921.0 1083.36 L923.0 1083.91 L925.0 1084.45 L927.0 1084.99 L929.0 1085.52 L931.0 1086.05 L933.0 1086.57 L935.0 1087.09 L937.0 1087.60 L939.0 1088.11 L941.0 1088.60 L943.0 1089.10 L945.0 1089.58 L947.0 1090.07 L949.0 1090.54 L951.0 1091.01 L953.0 1091.47 L955.0 1091.93 L957.0 1092.38 L959.0 1092.83 L961.0 1093.27 L963.0 1093.70 L965.0 1094.13 L967.0 1094.55 L969.0 1094.97 L971.0 1095.38 L973.0 1095.78 L975.0 1096.18 L977.0 1096.57 L979.0 1096.95 L981.0 1097.33 L983.0 1097.71 L985.0 1098.08 L987.0 1098.44 L989.0 1098.79 L991.0 1099.15 L993.0 1099.49 L995.0 1099.83 L997.0 1100.16 L999.0 1100.49 L1001.0 1100.81 L1003.0 1101.13 L1005.0 1101.44 L1007.0 1101.75 L1009.0 1102.05 L1011.0 1102.34 L1013.0 1102.63 L1015.0 1102.92 L1017.0 1103.20 L1019.0 1103.47 L1021.0 1103.74 L1023.0 1104.00 L1025.0 1104.26 L1027.0 1104.52 L1029.0 1104.77 L1031.0 1105.01 L1033.0 1105.25 L1035.0 1105.48 L1037.0 1105.71 L1039.0 1105.94 L1041.0 1106.16 L1043.0 1106.38 L1045.0 1106.59 L1047.0 1106.79 L1049.0 1107.00 L1051.0 1107.20 L1053.0 1107.39 L1055.0 1107.58 L1057.0 1107.77 L1059.0 1107.95 L1061.0 1108.12 L1063.0 1108.30 L1065.0 1108.47 L1067.0 1108.63 L1069.0 1108.80 L1071.0 1108.96 L1073.0 1109.11 L1075.0 1109.26 L1077.0 1109.41 L1079.0 1109.55 L1081.0 1109.69 L1083.0 1109.83 L1085.0 1109.97 L1087.0 1110.10 L1089.0 1110.22 L1091.0 1110.35 L1093.0 1110.47 L1095.0 1110.59 L1097.0 1110.71 L1099.0 1110.82 L1101.0 1110.93 L1103.0 1111.04 L1105.0 1111.14 L1107.0 1111.24 L1109.0 1111.34 L1111.0 1111.44 L1113.0 1111.53 L1115.0 1111.62 L1117.0 1111.71 L1119.0 1111.80 L1121.0 1111.88 L1123.0 1111.96 L1125.0 1112.04 L1127.0 1112.12 L1129.0 1112.20 L1131.0 1112.27 L1133.0 1112.34 L1135.0 1112.41 L1137.0 1112.48 L1139.0 1112.54 L1141.0 1112.61 L1143.0 1112.67 L1145.0 1112.73 L1147.0 1112.79 L1149.0 1112.85 L1151.0 1112.90 L1153.0 1112.95 L1155.0 1113.01 L1157.0 1113.06 L1159.0 1113.10 L1161.0 1113.15 L1163.0 1113.20 L1165.0 1113.24 L1167.0 1113.29 L1169.0 1113.33 L1171.0 1113.37 L1173.0 1113.41 L1175.0 1113.45 L1177.0 1113.48 L1179.0 1113.52 L1181.0 1113.55 L1183.0 1113.59 L1185.0 1113.62 L1187.0 1113.65 L1189.0 1113.68 L1191.0 1113.71 L1193.0 1113.74 L1195.0 1113.77 L1197.0 1113.79 L1199.0 1113.82 L1201.0 1113.84 L1203.0 1113.87 L1205.0 1113.89 L1207.0 1113.91 L1209.0 1113.94 L1211.0 1113.96 L1213.0 1113.98 L1215.0 1114.00 L1217.0 1114.02 L1219.0 1114.03 L1221.0 1114.05 L1223.0 1114.07 L1225.0 1114.08 L1227.0 1114.10 L1229.0 1114.12 L1231.0 1114.13 L1233.0 1114.15 L1235.0 1114.16 L1237.0 1114.17 L1239.0 1114.19 L1241.0 1114.20 L1243.0 1114.21 L1245.0 1114.22 L1247.0 1114.23 L1249.0 1114.24 L1251.0 1114.25 L1253.0 1114.26 L1255.0 1114.27 L1257.0 1114.28 L1259.0 1114.29 L1261.0 1114.30 L1263.0 1114.31 L1265.0 1114.32 L1267.0 1114.32 L1269.0 1114.33 L1271.0 1114.34 L1273.0 1114.34 L1275.0 1114.35 L1277.0 1114.36 L1279.0 1114.36 L1281.0 1114.37 L1283.0 1114.37 L1285.0 1114.38 L1287.0 1114.38 L1289.0 1114.39 L1291.0 1114.39 L1293.0 1114.40 L1295.0 1114.40 L1297.0 1114.41 L1299.0 1114.41 L1301.0 1114.41 L1303.0 1114.42 L1305.0 1114.42 L1307.0 1114.43 L1309.0 1114.43" stroke="#8000e0" stroke-width="7.8" stroke-linecap="round" stroke-dasharray="1.0 14.00" stroke-dashoffset="1.0"/>
</g><g clip-path="url(#plot)" fill="none" stroke-linejoin="round">
<path transform="scale(1 1.1)" d="M131.0 1012.62 L133.0 1012.60 L135.0 1012.58 L137.0 1012.56 L139.0 1012.53 L141.0 1012.51 L143.0 1012.48 L145.0 1012.46 L147.0 1012.43 L149.0 1012.40 L151.0 1012.37 L153.0 1012.34 L155.0 1012.31 L157.0 1012.27 L159.0 1012.24 L161.0 1012.20 L163.0 1012.16 L165.0 1012.12 L167.0 1012.08 L169.0 1012.03 L171.0 1011.98 L173.0 1011.93 L175.0 1011.87 L177.0 1011.81 L179.0 1011.74 L181.0 1011.67 L183.0 1011.59 L185.0 1011.50 L187.0 1011.41 L189.0 1011.30 L191.0 1011.18 L193.0 1011.05 L195.0 1010.90 L197.0 1010.73 L199.0 1010.54 L201.0 1010.33 L203.0 1010.08 L205.0 1009.81 L207.0 1009.50 L209.0 1009.15 L211.0 1008.74 L213.0 1008.28 L215.0 1007.76 L217.0 1007.17 L219.0 1006.50 L221.0 1005.75 L223.0 1004.92 L225.0 1004.00 L227.0 1002.99 L229.0 1001.91 L231.0 1000.76 L233.0 999.54 L235.0 998.28 L237.0 996.99 L239.0 995.67 L241.0 994.35 L243.0 993.03 L245.0 991.72 L247.0 990.42 L249.0 989.13 L251.0 987.84 L253.0 986.56 L255.0 985.28 L257.0 983.98 L259.0 982.68 L261.0 981.37 L263.0 980.05 L265.0 978.74 L267.0 977.43 L269.0 976.14 L271.0 974.89 L273.0 973.69 L275.0 972.54 L277.0 971.46 L279.0 970.47 L281.0 969.56 L283.0 968.75 L285.0 968.04 L287.0 967.43 L289.0 966.92 L291.0 966.52 L293.0 966.21 L295.0 966.00 L297.0 965.88 L299.0 965.83 L301.0 965.85 L303.0 965.94 L305.0 966.06 L307.0 966.22 L309.0 966.40 L311.0 966.59 L313.0 966.77 L315.0 966.93 L317.0 967.06 L319.0 967.14 L321.0 967.16 L323.0 967.11 L325.0 966.98 L327.0 966.76 L329.0 966.44 L331.0 966.02 L333.0 965.48 L335.0 964.83 L337.0 964.05 L339.0 963.15 L341.0 962.13 L343.0 960.99 L345.0 959.72 L347.0 958.34 L349.0 956.84 L351.0 955.22 L353.0 953.50 L355.0 951.67 L357.0 949.75 L359.0 947.75 L361.0 945.66 L363.0 943.50 L365.0 941.27 L367.0 938.99 L369.0 936.66 L371.0 934.29 L373.0 931.89 L375.0 929.47 L377.0 927.03 L379.0 924.60 L381.0 922.17 L383.0 919.75 L385.0 917.36 L387.0 914.99 L389.0 912.66 L391.0 910.38 L393.0 908.16 L395.0 905.99 L397.0 903.89 L399.0 901.86 L401.0 899.91 L403.0 898.05 L405.0 896.27 L407.0 894.59 L409.0 893.00 L411.0 891.51 L413.0 890.13 L415.0 888.85 L417.0 887.67 L419.0 886.60 L421.0 885.64 L423.0 884.78 L425.0 884.03 L427.0 883.38 L429.0 882.84 L431.0 882.39 L433.0 882.04 L435.0 881.77 L437.0 881.60 L439.0 881.50 L441.0 881.49 L443.0 881.54 L445.0 881.66 L447.0 881.83 L449.0 882.06 L451.0 882.34 L453.0 882.65 L455.0 882.99 L457.0 883.36 L459.0 883.74 L461.0 884.13 L463.0 884.53 L465.0 884.91 L467.0 885.29 L469.0 885.65 L471.0 885.98 L473.0 886.27 L475.0 886.53 L477.0 886.74 L479.0 886.90 L481.0 887.00 L483.0 887.04 L485.0 887.02 L487.0 886.91 L489.0 886.74 L491.0 886.48 L493.0 886.14 L495.0 885.71 L497.0 885.19 L499.0 884.59 L501.0 883.91 L503.0 883.14 L505.0 882.29 L507.0 881.37 L509.0 880.39 L511.0 879.34 L513.0 878.24 L515.0 877.10 L517.0 875.91 L519.0 874.70 L521.0 873.47 L523.0 872.21 L525.0 870.95 L527.0 869.67 L529.0 868.39 L531.0 867.10 L533.0 865.80 L535.0 864.50 L537.0 863.20 L539.0 861.89 L541.0 860.58 L543.0 859.27 L545.0 857.96 L547.0 856.66 L549.0 855.36 L551.0 854.08 L553.0 852.82 L555.0 851.58 L557.0 850.37 L559.0 849.20 L561.0 848.06 L563.0 846.98 L565.0 845.94 L567.0 844.96 L569.0 844.04 L571.0 843.18 L573.0 842.39 L575.0 841.67 L577.0 841.03 L579.0 840.46 L581.0 839.97 L583.0 839.56 L585.0 839.23 L587.0 838.98 L589.0 838.82 L591.0 838.73 L593.0 838.73 L595.0 838.82 L597.0 838.98 L599.0 839.23 L601.0 839.56 L603.0 839.97 L605.0 840.46 L607.0 841.02 L609.0 841.66 L611.0 842.38 L613.0 843.16 L615.0 844.02 L617.0 844.94 L619.0 845.92 L621.0 846.97 L623.0 848.07 L625.0 849.23 L627.0 850.45 L629.0 851.71 L631.0 853.02 L633.0 854.37 L635.0 855.76 L637.0 857.19 L639.0 858.66 L641.0 860.15 L643.0 861.67 L645.0 863.22 L647.0 864.79 L649.0 866.38 L651.0 867.98 L653.0 869.59 L655.0 871.21 L657.0 872.84 L659.0 874.48 L661.0 876.11 L663.0 877.75 L665.0 879.38 L667.0 881.00 L669.0 882.62 L671.0 884.23 L673.0 885.83 L675.0 887.41 L677.0 888.98 L679.0 890.53 L681.0 892.06 L683.0 893.58 L685.0 895.07 L687.0 896.54 L689.0 897.99 L691.0 899.42 L693.0 900.82 L695.0 902.20 L697.0 903.56 L699.0 904.89 L701.0 906.19 L703.0 907.47 L705.0 908.73 L707.0 909.96 L709.0 911.16 L711.0 912.34 L713.0 913.49 L715.0 914.62 L717.0 915.72 L719.0 916.81 L721.0 917.86 L723.0 918.90 L725.0 919.91 L727.0 920.91 L729.0 921.88 L731.0 922.83 L733.0 923.76 L735.0 924.67 L737.0 925.57 L739.0 926.45 L741.0 927.31 L743.0 928.16 L745.0 928.99 L747.0 929.81 L749.0 930.61 L751.0 931.40 L753.0 932.18 L755.0 932.95 L757.0 933.70 L759.0 934.45 L761.0 935.19 L763.0 935.92 L765.0 936.64 L767.0 937.35 L769.0 938.06 L771.0 938.76 L773.0 939.46 L775.0 940.14 L777.0 940.83 L779.0 941.51 L781.0 942.18 L783.0 942.86 L785.0 943.52 L787.0 944.19 L789.0 944.85 L791.0 945.51 L793.0 946.17 L795.0 946.83 L797.0 947.48 L799.0 948.13 L801.0 948.78 L803.0 949.43 L805.0 950.08 L807.0 950.73 L809.0 951.38 L811.0 952.02 L813.0 952.67 L815.0 953.31 L817.0 953.96 L819.0 954.60 L821.0 955.24 L823.0 955.89 L825.0 956.53 L827.0 957.17 L829.0 957.81 L831.0 958.45 L833.0 959.08 L835.0 959.72 L837.0 960.36 L839.0 960.99 L841.0 961.63 L843.0 962.26 L845.0 962.89 L847.0 963.52 L849.0 964.15 L851.0 964.78 L853.0 965.40 L855.0 966.03 L857.0 966.65 L859.0 967.27 L861.0 967.88 L863.0 968.50 L865.0 969.11 L867.0 969.72 L869.0 970.33 L871.0 970.93 L873.0 971.54 L875.0 972.13 L877.0 972.73 L879.0 973.32 L881.0 973.91 L883.0 974.50 L885.0 975.08 L887.0 975.66 L889.0 976.24 L891.0 976.81 L893.0 977.37 L895.0 977.94 L897.0 978.50 L899.0 979.05 L901.0 979.60 L903.0 980.15 L905.0 980.69 L907.0 981.23 L909.0 981.77 L911.0 982.30 L913.0 982.82 L915.0 983.34 L917.0 983.85 L919.0 984.36 L921.0 984.87 L923.0 985.37 L925.0 985.86 L927.0 986.35 L929.0 986.84 L931.0 987.32 L933.0 987.79 L935.0 988.26 L937.0 988.73 L939.0 989.19 L941.0 989.64 L943.0 990.09 L945.0 990.53 L947.0 990.97 L949.0 991.40 L951.0 991.83 L953.0 992.25 L955.0 992.66 L957.0 993.08 L959.0 993.48 L961.0 993.88 L963.0 994.27 L965.0 994.66 L967.0 995.05 L969.0 995.42 L971.0 995.80 L973.0 996.16 L975.0 996.52 L977.0 996.88 L979.0 997.23 L981.0 997.58 L983.0 997.92 L985.0 998.25 L987.0 998.58 L989.0 998.90 L991.0 999.22 L993.0 999.54 L995.0 999.85 L997.0 1000.15 L999.0 1000.45 L1001.0 1000.74 L1003.0 1001.03 L1005.0 1001.31 L1007.0 1001.59 L1009.0 1001.86 L1011.0 1002.13 L1013.0 1002.39 L1015.0 1002.65 L1017.0 1002.91 L1019.0 1003.16 L1021.0 1003.40 L1023.0 1003.64 L1025.0 1003.88 L1027.0 1004.11 L1029.0 1004.33 L1031.0 1004.56 L1033.0 1004.77 L1035.0 1004.99 L1037.0 1005.19 L1039.0 1005.40 L1041.0 1005.60 L1043.0 1005.80 L1045.0 1005.99 L1047.0 1006.18 L1049.0 1006.36 L1051.0 1006.54 L1053.0 1006.72 L1055.0 1006.89 L1057.0 1007.06 L1059.0 1007.22 L1061.0 1007.39 L1063.0 1007.54 L1065.0 1007.70 L1067.0 1007.85 L1069.0 1008.00 L1071.0 1008.14 L1073.0 1008.28 L1075.0 1008.42 L1077.0 1008.55 L1079.0 1008.68 L1081.0 1008.81 L1083.0 1008.94 L1085.0 1009.06 L1087.0 1009.18 L1089.0 1009.30 L1091.0 1009.41 L1093.0 1009.52 L1095.0 1009.63 L1097.0 1009.73 L1099.0 1009.83 L1101.0 1009.93 L1103.0 1010.03 L1105.0 1010.13 L1107.0 1010.22 L1109.0 1010.31 L1111.0 1010.40 L1113.0 1010.48 L1115.0 1010.57 L1117.0 1010.65 L1119.0 1010.73 L1121.0 1010.80 L1123.0 1010.88 L1125.0 1010.95 L1127.0 1011.02 L1129.0 1011.09 L1131.0 1011.16 L1133.0 1011.22 L1135.0 1011.28 L1137.0 1011.34 L1139.0 1011.40 L1141.0 1011.46 L1143.0 1011.52 L1145.0 1011.57 L1147.0 1011.63 L1149.0 1011.68 L1151.0 1011.73 L1153.0 1011.78 L1155.0 1011.82 L1157.0 1011.87 L1159.0 1011.91 L1161.0 1011.96 L1163.0 1012.00 L1165.0 1012.04 L1167.0 1012.08 L1169.0 1012.12 L1171.0 1012.15 L1173.0 1012.19 L1175.0 1012.22 L1177.0 1012.26 L1179.0 1012.29 L1181.0 1012.32 L1183.0 1012.35 L1185.0 1012.38 L1187.0 1012.41 L1189.0 1012.44 L1191.0 1012.46 L1193.0 1012.49 L1195.0 1012.51 L1197.0 1012.54 L1199.0 1012.56 L1201.0 1012.58 L1203.0 1012.61 L1205.0 1012.63 L1207.0 1012.65 L1209.0 1012.67 L1211.0 1012.69 L1213.0 1012.71 L1215.0 1012.72 L1217.0 1012.74 L1219.0 1012.76 L1221.0 1012.77 L1223.0 1012.79 L1225.0 1012.80 L1227.0 1012.82 L1229.0 1012.83 L1231.0 1012.85 L1233.0 1012.86 L1235.0 1012.87 L1237.0 1012.88 L1239.0 1012.90 L1241.0 1012.91 L1243.0 1012.92 L1245.0 1012.93 L1247.0 1012.94 L1249.0 1012.95 L1251.0 1012.96 L1253.0 1012.97 L1255.0 1012.98 L1257.0 1012.98 L1259.0 1012.99 L1261.0 1013.00 L1263.0 1013.01 L1265.0 1013.01 L1267.0 1013.02 L1269.0 1013.03 L1271.0 1013.03 L1273.0 1013.04 L1275.0 1013.05 L1277.0 1013.05 L1279.0 1013.06 L1281.0 1013.06 L1283.0 1013.07 L1285.0 1013.07 L1287.0 1013.08 L1289.0 1013.08 L1291.0 1013.09 L1293.0 1013.09 L1295.0 1013.09 L1297.0 1013.10 L1299.0 1013.10 L1301.0 1013.10 L1303.0 1013.11 L1305.0 1013.11 L1307.0 1013.11 L1309.0 1013.12" stroke="#8f0000" stroke-width="7.20"/>
</g>
<rect x="959.6" y="103.0" width="470.0" height="359.2" fill="#fff" stroke="#000" stroke-width="1.6"/>
<path d="M966.3 143.6 H1087.2" stroke="#00cc00" stroke-width="7.8" stroke-linecap="round" stroke-dasharray="1.0 13.95" fill="none"/>
<text y="162.3" font-size="50"><tspan x="1106.2" textLength="144" lengthAdjust="spacingAndGlyphs">DeCon</tspan> <tspan x="1269.6" textLength="101.5" lengthAdjust="spacingAndGlyphs">Peak</tspan> <tspan x="1387.0" textLength="33.2" lengthAdjust="spacingAndGlyphs">A</tspan></text>
<path d="M966.3 214.4 H1087.2" stroke="#ff0ae0" stroke-width="7.8" stroke-linecap="round" stroke-dasharray="1.0 13.95" fill="none"/>
<text y="233.2" font-size="50"><tspan x="1106.2" textLength="144" lengthAdjust="spacingAndGlyphs">DeCon</tspan> <tspan x="1269.6" textLength="101.5" lengthAdjust="spacingAndGlyphs">Peak</tspan> <tspan x="1387.6" textLength="32.0" lengthAdjust="spacingAndGlyphs">B</tspan></text>
<path d="M966.3 285.3 H1087.2" stroke="#00bfbf" stroke-width="7.8" stroke-linecap="round" stroke-dasharray="1.0 13.95" fill="none"/>
<text y="304.0" font-size="50"><tspan x="1106.2" textLength="144" lengthAdjust="spacingAndGlyphs">DeCon</tspan> <tspan x="1269.6" textLength="101.5" lengthAdjust="spacingAndGlyphs">Peak</tspan> <tspan x="1385.6" textLength="36.4" lengthAdjust="spacingAndGlyphs">C</tspan></text>
<path d="M966.3 356.1 H1087.2" stroke="#8000e0" stroke-width="7.8" stroke-linecap="round" stroke-dasharray="1.0 13.95" fill="none"/>
<text y="374.9" font-size="50"><tspan x="1106.2" textLength="144" lengthAdjust="spacingAndGlyphs">DeCon</tspan> <tspan x="1269.6" textLength="101.5" lengthAdjust="spacingAndGlyphs">Peak</tspan> <tspan x="1385.6" textLength="36.1" lengthAdjust="spacingAndGlyphs">D</tspan></text>
<path d="M726.60 187.70 L650.20 187.70" stroke="#000" stroke-width="7.6" stroke-linecap="round" fill="none"/><path d="M614.50 187.70 L654.90 177.30 L652.20 187.20 L652.20 188.20 L654.90 198.10Z" fill="#000" stroke="#000" stroke-width="6.6" stroke-linejoin="round"/>
<path d="M274.28 911.79 L346.37 979.01" stroke="#000" stroke-width="7.6" stroke-linecap="round" fill="none"/><path d="M372.49 1003.35 L335.84 983.41 L344.57 978.01 L345.25 977.28 L350.03 968.19Z" fill="#000" stroke="#000" stroke-width="6.6" stroke-linejoin="round"/>
<path d="M861.09 803.68 L751.50 857.51" stroke="#000" stroke-width="7.6" stroke-linecap="round" fill="none"/><path d="M719.46 873.25 L751.14 846.10 L753.08 856.17 L753.52 857.07 L760.31 864.77Z" fill="#000" stroke="#000" stroke-width="6.6" stroke-linejoin="round"/>
<path d="M861.82 804.69 L720.43 946.57" stroke="#000" stroke-width="7.6" stroke-linecap="round" fill="none"/><path d="M695.23 971.86 L716.38 935.90 L721.49 944.81 L722.19 945.51 L731.11 950.59Z" fill="#000" stroke="#000" stroke-width="6.6" stroke-linejoin="round"/>
<path d="M986.34 940.84 L913.82 961.37" stroke="#000" stroke-width="7.6" stroke-linecap="round" fill="none"/><path d="M879.48 971.10 L915.51 950.09 L915.61 960.35 L915.88 961.31 L921.18 970.10Z" fill="#000" stroke="#000" stroke-width="6.6" stroke-linejoin="round"/>
<text x="739.0" y="196.5" font-size="56">ASE</text>
<text x="211" y="827.5" font-size="50.5">LIF</text>
<text x="878.8" y="800" font-size="54.6">x 2</text>
<text x="999.5" y="940.6" font-size="50.2">Threshold</text>
<text x="262.4" y="1099.5" font-size="27">(A)</text>
<text x="385.3" y="1046.4" font-size="36">(B)</text>
<text x="543.0" y="979.5" font-size="37">(C)</text>
<text x="685.6" y="1048.3" font-size="37">(D)</text>
<text x="131.4" y="1194.1" font-size="57" text-anchor="middle">400</text>
<text x="264.9" y="1194.1" font-size="57" text-anchor="middle">425</text>
<text x="398.5" y="1194.1" font-size="57" text-anchor="middle">450</text>
<text x="532.0" y="1194.1" font-size="57" text-anchor="middle">475</text>
<text x="665.6" y="1194.1" font-size="57" text-anchor="middle">500</text>
<text x="799.2" y="1194.1" font-size="57" text-anchor="middle">525</text>
<text x="932.7" y="1194.1" font-size="57" text-anchor="middle">550</text>
<text x="1066.2" y="1194.1" font-size="57" text-anchor="middle">575</text>
<text x="1199.8" y="1194.1" font-size="57" text-anchor="middle">600</text>
<text x="1333.4" y="1194.1" font-size="57" text-anchor="middle">625</text>
<text x="1466.9" y="1194.1" font-size="57" text-anchor="middle">650</text>
<text x="800.4" y="1266.4" font-size="65" text-anchor="middle" letter-spacing="1.15">Wavelength (nm)</text>
<text transform="translate(87.2 556) rotate(-90)" font-size="65" text-anchor="middle" letter-spacing="0.55">Intensity (a.u.)</text>
</g></svg></body></html>
